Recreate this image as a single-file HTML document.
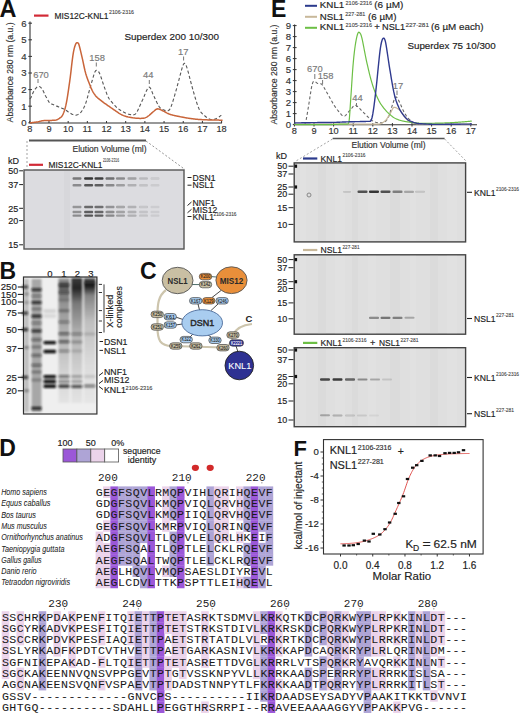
<!DOCTYPE html>
<html><head><meta charset="utf-8"><style>html,body{margin:0;padding:0;background:#fff;width:520px;height:714px;overflow:hidden}svg{display:block}</style></head>
<body><svg width="520" height="714" viewBox="0 0 520 714" font-family='"Liberation Sans", sans-serif'>
<defs>
<filter id="blur1" x="-20%" y="-50%" width="140%" height="200%"><feGaussianBlur stdDeviation="0.6"/></filter>
<filter id="blur2" x="-20%" y="-50%" width="140%" height="200%"><feGaussianBlur stdDeviation="1.0"/></filter>
<filter id="blur3" x="-20%" y="-20%" width="140%" height="140%"><feGaussianBlur stdDeviation="1.6"/></filter>
</defs>
<rect width="520" height="714" fill="#fff"/>
<text x="-0.60" y="17.40" font-size="23.5" fill="#111" text-anchor="start" font-weight="bold" >A</text>
<line x1="34.00" y1="15.60" x2="48.50" y2="15.60" stroke="#d22a36" stroke-width="2.2" />
<text x="54.50" y="18.60" font-size="8.4" fill="#222" text-anchor="start" stroke="#222" stroke-width="0.16" textLength="54" lengthAdjust="spacingAndGlyphs" >MIS12C-KNL1</text>
<text x="109.00" y="13.50" font-size="5" fill="#444" text-anchor="start" stroke="#444" stroke-width="0.1" textLength="25" lengthAdjust="spacingAndGlyphs" >2106-2316</text>
<line x1="30.00" y1="21.50" x2="30.00" y2="123.30" stroke="#333" stroke-width="1.1" />
<line x1="29.50" y1="123.00" x2="222.00" y2="123.00" stroke="#333" stroke-width="1.1" />
<line x1="28.30" y1="122.80" x2="32.00" y2="122.80" stroke="#333" stroke-width="1" />
<text x="26.60" y="126.20" font-size="9.6" fill="#333" text-anchor="end" stroke="#333" stroke-width="0.16" >0</text>
<line x1="28.30" y1="106.20" x2="32.00" y2="106.20" stroke="#333" stroke-width="1" />
<text x="26.60" y="109.60" font-size="9.6" fill="#333" text-anchor="end" stroke="#333" stroke-width="0.16" >1</text>
<line x1="28.30" y1="89.60" x2="32.00" y2="89.60" stroke="#333" stroke-width="1" />
<text x="26.60" y="93.00" font-size="9.6" fill="#333" text-anchor="end" stroke="#333" stroke-width="0.16" >2</text>
<line x1="28.30" y1="73.00" x2="32.00" y2="73.00" stroke="#333" stroke-width="1" />
<text x="26.60" y="76.40" font-size="9.6" fill="#333" text-anchor="end" stroke="#333" stroke-width="0.16" >3</text>
<line x1="28.30" y1="56.40" x2="32.00" y2="56.40" stroke="#333" stroke-width="1" />
<text x="26.60" y="59.80" font-size="9.6" fill="#333" text-anchor="end" stroke="#333" stroke-width="0.16" >4</text>
<line x1="28.30" y1="39.80" x2="32.00" y2="39.80" stroke="#333" stroke-width="1" />
<text x="26.60" y="43.20" font-size="9.6" fill="#333" text-anchor="end" stroke="#333" stroke-width="0.16" >5</text>
<line x1="28.30" y1="23.20" x2="32.00" y2="23.20" stroke="#333" stroke-width="1" />
<text x="26.60" y="26.60" font-size="9.6" fill="#333" text-anchor="end" stroke="#333" stroke-width="0.16" >6</text>
<line x1="29.80" y1="121.00" x2="29.80" y2="123.00" stroke="#333" stroke-width="1" />
<text x="29.80" y="132.30" font-size="9.2" fill="#333" text-anchor="middle" stroke="#333" stroke-width="0.16" >8</text>
<line x1="48.98" y1="121.00" x2="48.98" y2="123.00" stroke="#333" stroke-width="1" />
<text x="48.98" y="132.30" font-size="9.2" fill="#333" text-anchor="middle" stroke="#333" stroke-width="0.16" >9</text>
<line x1="68.16" y1="121.00" x2="68.16" y2="123.00" stroke="#333" stroke-width="1" />
<text x="68.16" y="132.30" font-size="9.2" fill="#333" text-anchor="middle" stroke="#333" stroke-width="0.16" >10</text>
<line x1="87.34" y1="121.00" x2="87.34" y2="123.00" stroke="#333" stroke-width="1" />
<text x="87.34" y="132.30" font-size="9.2" fill="#333" text-anchor="middle" stroke="#333" stroke-width="0.16" >11</text>
<line x1="106.52" y1="121.00" x2="106.52" y2="123.00" stroke="#333" stroke-width="1" />
<text x="106.52" y="132.30" font-size="9.2" fill="#333" text-anchor="middle" stroke="#333" stroke-width="0.16" >12</text>
<line x1="125.70" y1="121.00" x2="125.70" y2="123.00" stroke="#333" stroke-width="1" />
<text x="125.70" y="132.30" font-size="9.2" fill="#333" text-anchor="middle" stroke="#333" stroke-width="0.16" >13</text>
<line x1="144.88" y1="121.00" x2="144.88" y2="123.00" stroke="#333" stroke-width="1" />
<text x="144.88" y="132.30" font-size="9.2" fill="#333" text-anchor="middle" stroke="#333" stroke-width="0.16" >14</text>
<line x1="164.06" y1="121.00" x2="164.06" y2="123.00" stroke="#333" stroke-width="1" />
<text x="164.06" y="132.30" font-size="9.2" fill="#333" text-anchor="middle" stroke="#333" stroke-width="0.16" >15</text>
<line x1="183.24" y1="121.00" x2="183.24" y2="123.00" stroke="#333" stroke-width="1" />
<text x="183.24" y="132.30" font-size="9.2" fill="#333" text-anchor="middle" stroke="#333" stroke-width="0.16" >16</text>
<line x1="202.42" y1="121.00" x2="202.42" y2="123.00" stroke="#333" stroke-width="1" />
<text x="202.42" y="132.30" font-size="9.2" fill="#333" text-anchor="middle" stroke="#333" stroke-width="0.16" >17</text>
<line x1="221.60" y1="121.00" x2="221.60" y2="123.00" stroke="#333" stroke-width="1" />
<text x="221.60" y="132.30" font-size="9.2" fill="#333" text-anchor="middle" stroke="#333" stroke-width="0.16" >18</text>
<text x="9.60" y="72.40" font-size="8.7" fill="#333" text-anchor="middle" stroke="#333" stroke-width="0.16" textLength="100" lengthAdjust="spacingAndGlyphs" transform="rotate(-90 9.6 72.4)" dy="3">Absorbance 280 nm (a.u.)</text>
<text x="124.40" y="39.50" font-size="9.6" fill="#222" text-anchor="start" stroke="#222" stroke-width="0.16" textLength="94.5" lengthAdjust="spacingAndGlyphs" >Superdex 200 10/300</text>
<path d="M29.80,98.73 L30.44,98.21 L31.09,97.33 L31.73,96.03 L32.37,94.42 L33.01,92.83 L33.66,91.54 L34.30,90.43 L34.94,89.43 L35.58,88.54 L36.23,87.79 L36.87,87.19 L37.51,86.76 L38.15,86.50 L38.80,86.43 L39.44,86.56 L40.08,86.87 L40.72,87.36 L41.37,88.04 L42.01,88.90 L42.65,89.93 L43.29,91.13 L43.94,92.45 L44.58,93.82 L45.22,95.18 L45.86,96.45 L46.51,97.60 L47.15,98.77 L47.79,99.96 L48.43,101.09 L49.08,102.11 L49.72,102.94 L50.36,103.52 L51.00,103.83 L51.65,104.08 L52.29,104.34 L52.93,104.59 L53.57,104.85 L54.22,105.10 L54.86,105.36 L55.50,105.61 L56.14,105.87 L56.79,106.12 L57.43,106.38 L58.07,106.63 L58.71,106.89 L59.36,107.14 L60.00,107.40 L60.64,107.65 L61.28,107.90 L61.93,108.16 L62.57,108.42 L63.21,108.70 L63.85,108.98 L64.50,109.27 L65.14,109.64 L65.78,110.08 L66.42,110.56 L67.07,111.06 L67.71,111.54 L68.35,111.97 L68.99,112.38 L69.64,112.78 L70.28,113.17 L70.92,113.55 L71.56,113.92 L72.21,114.28 L72.85,114.58 L73.49,114.81 L74.13,114.97 L74.78,115.10 L75.42,115.18 L76.06,115.16 L76.70,115.03 L77.35,114.81 L77.99,114.53 L78.63,114.21 L79.27,113.82 L79.92,113.28 L80.56,112.63 L81.20,111.85 L81.84,110.99 L82.49,110.05 L83.13,109.02 L83.77,107.86 L84.42,106.54 L85.06,105.03 L85.70,103.31 L86.34,101.33 L86.99,99.12 L87.63,96.83 L88.27,94.51 L88.91,92.17 L89.56,89.84 L90.20,87.53 L90.84,85.25 L91.48,83.00 L92.13,80.76 L92.77,78.54 L93.41,76.34 L94.05,74.16 L94.70,72.34 L95.34,71.14 L95.98,70.49 L96.62,70.30 L97.27,70.47 L97.91,70.90 L98.55,71.61 L99.19,72.61 L99.84,73.93 L100.48,75.59 L101.12,77.46 L101.76,79.41 L102.41,81.39 L103.05,83.36 L103.69,85.28 L104.33,87.10 L104.98,88.89 L105.62,90.68 L106.26,92.43 L106.90,94.09 L107.55,95.63 L108.19,97.01 L108.83,98.20 L109.47,99.24 L110.12,100.14 L110.76,100.96 L111.40,101.71 L112.04,102.44 L112.69,103.17 L113.33,103.89 L113.97,104.60 L114.61,105.30 L115.26,105.97 L115.90,106.63 L116.54,107.25 L117.18,107.84 L117.83,108.39 L118.47,108.90 L119.11,109.37 L119.75,109.82 L120.40,110.24 L121.04,110.64 L121.68,111.02 L122.32,111.38 L122.97,111.73 L123.61,112.07 L124.25,112.40 L124.89,112.72 L125.54,113.04 L126.18,113.33 L126.82,113.58 L127.46,113.81 L128.11,114.02 L128.75,114.20 L129.39,114.37 L130.03,114.51 L130.68,114.64 L131.32,114.75 L131.96,114.85 L132.60,114.92 L133.25,114.92 L133.89,114.82 L134.53,114.59 L135.17,114.20 L135.82,113.61 L136.46,112.79 L137.10,111.72 L137.75,110.43 L138.39,109.09 L139.03,107.70 L139.67,106.28 L140.32,104.84 L140.96,103.39 L141.60,101.95 L142.24,100.53 L142.89,99.15 L143.53,97.70 L144.17,96.17 L144.81,94.61 L145.46,93.07 L146.10,91.60 L146.74,90.24 L147.38,89.04 L148.03,88.05 L148.67,87.32 L149.31,87.09 L149.95,87.56 L150.60,88.57 L151.24,89.95 L151.88,91.54 L152.52,93.17 L153.17,94.70 L153.81,95.99 L154.45,97.31 L155.09,98.69 L155.74,100.08 L156.38,101.47 L157.02,102.82 L157.66,104.09 L158.31,105.26 L158.95,106.30 L159.59,107.16 L160.23,107.86 L160.88,108.41 L161.52,108.86 L162.16,109.22 L162.80,109.53 L163.45,109.82 L164.09,110.11 L164.73,110.39 L165.37,110.61 L166.02,110.75 L166.66,110.83 L167.30,110.85 L167.94,110.77 L168.59,110.51 L169.23,110.00 L169.87,109.18 L170.51,107.97 L171.16,106.37 L171.80,104.60 L172.44,102.70 L173.08,100.69 L173.73,98.59 L174.37,96.41 L175.01,94.18 L175.65,91.90 L176.30,89.60 L176.94,87.27 L177.58,84.89 L178.22,82.47 L178.87,80.02 L179.51,77.58 L180.15,75.14 L180.79,72.74 L181.44,70.39 L182.08,68.14 L182.72,66.15 L183.36,64.56 L184.01,63.54 L184.65,63.28 L185.29,63.81 L185.93,64.98 L186.58,66.65 L187.22,68.66 L187.86,70.89 L188.50,73.21 L189.15,75.62 L189.79,78.08 L190.43,80.55 L191.08,83.02 L191.72,85.44 L192.36,87.79 L193.00,90.05 L193.65,92.31 L194.29,94.57 L194.93,96.80 L195.57,98.98 L196.22,101.08 L196.86,103.09 L197.50,104.98 L198.14,106.73 L198.79,108.30 L199.43,109.65 L200.07,110.81 L200.71,111.79 L201.36,112.63 L202.00,113.36 L202.64,114.01 L203.28,114.59 L203.93,115.14 L204.57,115.69 L205.21,116.23 L205.85,116.75 L206.50,117.26 L207.14,117.73 L207.78,118.16 L208.42,118.55 L209.07,118.88 L209.71,119.15 L210.35,119.35 L210.99,119.47 L211.64,119.53 L212.28,119.53 L212.92,119.49 L213.56,119.40 L214.21,119.27 L214.85,119.10 L215.49,118.88 L216.13,118.62 L216.78,118.32 L217.42,117.97 L218.06,117.59 L218.70,117.17 L219.35,116.71 L219.99,116.20 L220.63,115.65 L221.27,115.05 L221.92,114.39 L222.56,113.67" fill="none" stroke="#555" stroke-width="1.1" stroke-linejoin="round" stroke-dasharray="3.2,2.2"/>
<path d="M29.80,122.80 L30.44,122.75 L31.09,122.70 L31.73,122.64 L32.37,122.58 L33.01,122.51 L33.66,122.43 L34.30,122.35 L34.94,122.27 L35.58,122.18 L36.23,122.09 L36.87,122.00 L37.51,121.90 L38.15,121.77 L38.80,121.62 L39.44,121.46 L40.08,121.30 L40.72,121.13 L41.37,120.98 L42.01,120.84 L42.65,120.73 L43.29,120.65 L43.94,120.61 L44.58,120.57 L45.22,120.55 L45.86,120.54 L46.51,120.53 L47.15,120.52 L47.79,120.52 L48.43,120.51 L49.08,120.50 L49.72,120.48 L50.36,120.46 L51.00,120.43 L51.65,120.40 L52.29,120.36 L52.93,120.31 L53.57,120.27 L54.22,120.22 L54.86,120.18 L55.50,120.13 L56.14,120.00 L56.79,119.80 L57.43,119.52 L58.07,119.18 L58.71,118.79 L59.36,118.38 L60.00,117.93 L60.64,117.48 L61.28,116.97 L61.93,116.18 L62.57,115.11 L63.21,113.80 L63.85,112.26 L64.50,110.52 L65.14,108.35 L65.78,105.68 L66.42,102.57 L67.07,99.02 L67.71,95.11 L68.35,90.91 L68.99,86.48 L69.64,81.88 L70.28,77.11 L70.92,71.79 L71.56,66.14 L72.21,60.66 L72.85,55.80 L73.49,51.91 L74.13,48.88 L74.78,46.53 L75.42,44.69 L76.06,43.42 L76.70,42.82 L77.35,42.67 L77.99,42.85 L78.63,43.77 L79.27,45.79 L79.92,48.26 L80.56,50.86 L81.20,53.56 L81.84,56.34 L82.49,59.19 L83.13,62.20 L83.77,65.25 L84.42,68.23 L85.06,70.98 L85.70,73.42 L86.34,75.57 L86.99,77.50 L87.63,79.27 L88.27,80.94 L88.91,82.57 L89.56,84.21 L90.20,85.84 L90.84,87.42 L91.48,88.92 L92.13,90.30 L92.77,91.52 L93.41,92.60 L94.05,93.61 L94.70,94.54 L95.34,95.40 L95.98,96.18 L96.62,96.89 L97.27,97.53 L97.91,98.08 L98.55,98.60 L99.19,99.12 L99.84,99.64 L100.48,100.15 L101.12,100.66 L101.76,101.16 L102.41,101.66 L103.05,102.14 L103.69,102.62 L104.33,103.09 L104.98,103.54 L105.62,103.98 L106.26,104.43 L106.90,104.87 L107.55,105.32 L108.19,105.76 L108.83,106.21 L109.47,106.65 L110.12,107.10 L110.76,107.54 L111.40,107.99 L112.04,108.43 L112.69,108.88 L113.33,109.32 L113.97,109.77 L114.61,110.21 L115.26,110.66 L115.90,111.10 L116.54,111.55 L117.18,111.99 L117.83,112.43 L118.47,112.88 L119.11,113.31 L119.75,113.71 L120.40,114.08 L121.04,114.43 L121.68,114.75 L122.32,115.05 L122.97,115.33 L123.61,115.60 L124.25,115.85 L124.89,116.08 L125.54,116.30 L126.18,116.49 L126.82,116.67 L127.46,116.83 L128.11,116.98 L128.75,117.11 L129.39,117.24 L130.03,117.35 L130.68,117.46 L131.32,117.57 L131.96,117.67 L132.60,117.77 L133.25,117.87 L133.89,117.95 L134.53,118.03 L135.17,118.11 L135.82,118.17 L136.46,118.23 L137.10,118.28 L137.75,118.32 L138.39,118.35 L139.03,118.37 L139.67,118.38 L140.32,118.39 L140.96,118.38 L141.60,118.37 L142.24,118.35 L142.89,118.31 L143.53,118.23 L144.17,118.10 L144.81,117.92 L145.46,117.68 L146.10,117.40 L146.74,117.06 L147.38,116.68 L148.03,116.24 L148.67,115.76 L149.31,115.24 L149.95,114.68 L150.60,114.10 L151.24,113.51 L151.88,112.92 L152.52,112.35 L153.17,111.79 L153.81,111.27 L154.45,110.71 L155.09,110.14 L155.74,109.63 L156.38,109.21 L157.02,108.94 L157.66,108.86 L158.31,108.91 L158.95,109.06 L159.59,109.27 L160.23,109.53 L160.88,109.83 L161.52,110.15 L162.16,110.48 L162.80,110.80 L163.45,111.11 L164.09,111.44 L164.73,111.78 L165.37,112.13 L166.02,112.47 L166.66,112.82 L167.30,113.15 L167.94,113.46 L168.59,113.76 L169.23,114.02 L169.87,114.25 L170.51,114.47 L171.16,114.67 L171.80,114.86 L172.44,115.04 L173.08,115.21 L173.73,115.37 L174.37,115.52 L175.01,115.67 L175.65,115.81 L176.30,115.95 L176.94,116.08 L177.58,116.21 L178.22,116.34 L178.87,116.47 L179.51,116.60 L180.15,116.73 L180.79,116.86 L181.44,116.99 L182.08,117.11 L182.72,117.24 L183.36,117.36 L184.01,117.48 L184.65,117.59 L185.29,117.71 L185.93,117.82 L186.58,117.92 L187.22,118.03 L187.86,118.13 L188.50,118.22 L189.15,118.32 L189.79,118.41 L190.43,118.50 L191.08,118.59 L191.72,118.68 L192.36,118.76 L193.00,118.84 L193.65,118.92 L194.29,119.00 L194.93,119.07 L195.57,119.14 L196.22,119.21 L196.86,119.27 L197.50,119.33 L198.14,119.38 L198.79,119.43 L199.43,119.47 L200.07,119.51 L200.71,119.55 L201.36,119.59 L202.00,119.63 L202.64,119.66 L203.28,119.69 L203.93,119.73 L204.57,119.76 L205.21,119.78 L205.85,119.81 L206.50,119.84 L207.14,119.86 L207.78,119.88 L208.42,119.91 L209.07,119.93 L209.71,119.94 L210.35,119.96 L210.99,119.98 L211.64,119.99 L212.28,120.01 L212.92,120.02 L213.56,120.03 L214.21,120.05 L214.85,120.06 L215.49,120.07 L216.13,120.08 L216.78,120.09 L217.42,120.10 L218.06,120.11 L218.70,120.12 L219.35,120.13 L219.99,120.13 L220.63,120.14 L221.27,120.14 L221.92,120.14 L222.56,120.14" fill="none" stroke="#c9653a" stroke-width="1.5" stroke-linejoin="round" />
<text x="41.00" y="77.60" font-size="9.4" fill="#7a7a7a" text-anchor="middle" stroke="#7a7a7a" stroke-width="0.16" >670</text>
<line x1="38.00" y1="79.00" x2="38.00" y2="83.00" stroke="#777" stroke-width="1" />
<text x="97.20" y="60.80" font-size="9.4" fill="#7a7a7a" text-anchor="middle" stroke="#7a7a7a" stroke-width="0.16" >158</text>
<line x1="96.30" y1="62.50" x2="96.30" y2="66.50" stroke="#777" stroke-width="1" />
<text x="148.30" y="78.20" font-size="9.4" fill="#7a7a7a" text-anchor="middle" stroke="#7a7a7a" stroke-width="0.16" >44</text>
<line x1="149.30" y1="80.00" x2="149.30" y2="84.00" stroke="#777" stroke-width="1" />
<text x="183.20" y="54.60" font-size="9.4" fill="#7a7a7a" text-anchor="middle" stroke="#7a7a7a" stroke-width="0.16" >17</text>
<line x1="183.60" y1="56.50" x2="183.60" y2="60.50" stroke="#777" stroke-width="1" />
<line x1="29.00" y1="140.50" x2="146.00" y2="140.50" stroke="#555" stroke-width="1.8" />
<text x="109.50" y="152.40" font-size="8.6" fill="#333" text-anchor="middle" stroke="#333" stroke-width="0.16" textLength="74" lengthAdjust="spacingAndGlyphs" >Elution Volume (ml)</text>
<line x1="146.00" y1="141.00" x2="185.00" y2="169.50" stroke="#888" stroke-width="0.9" stroke-dasharray="2,2"/>
<line x1="27.00" y1="141.00" x2="27.00" y2="169.50" stroke="#999" stroke-width="0.9" stroke-dasharray="2,2"/>
<text x="8.00" y="163.80" font-size="9" fill="#222" text-anchor="start" stroke="#222" stroke-width="0.16" >kD</text>
<line x1="29.00" y1="164.80" x2="43.00" y2="164.80" stroke="#d22a36" stroke-width="2.2" />
<text x="48.50" y="167.50" font-size="8.4" fill="#222" text-anchor="start" stroke="#222" stroke-width="0.16" textLength="54" lengthAdjust="spacingAndGlyphs" >MIS12C-KNL1</text>
<text x="103.00" y="161.50" font-size="5.6" fill="#444" text-anchor="start" stroke="#444" stroke-width="0.1" textLength="16" lengthAdjust="spacingAndGlyphs" >2106-2316</text>
<rect x="24" y="170" width="160" height="79" fill="#dcdce0" stroke="#555" stroke-width="1.4"/>
<rect x="64" y="171" width="6" height="77" fill="#000" opacity="0.02"/>
<text x="18.30" y="174.00" font-size="9" fill="#222" text-anchor="end" stroke="#222" stroke-width="0.16" >50</text>
<line x1="19.20" y1="170.80" x2="23.00" y2="170.80" stroke="#222" stroke-width="1" />
<text x="18.30" y="187.80" font-size="9" fill="#222" text-anchor="end" stroke="#222" stroke-width="0.16" >37</text>
<line x1="19.20" y1="184.60" x2="23.00" y2="184.60" stroke="#222" stroke-width="1" />
<text x="18.30" y="211.50" font-size="9" fill="#222" text-anchor="end" stroke="#222" stroke-width="0.16" >25</text>
<line x1="19.20" y1="208.30" x2="23.00" y2="208.30" stroke="#222" stroke-width="1" />
<text x="18.30" y="223.80" font-size="9" fill="#222" text-anchor="end" stroke="#222" stroke-width="0.16" >20</text>
<line x1="19.20" y1="220.60" x2="23.00" y2="220.60" stroke="#222" stroke-width="1" />
<text x="18.30" y="248.00" font-size="9" fill="#222" text-anchor="end" stroke="#222" stroke-width="0.16" >15</text>
<line x1="19.20" y1="244.80" x2="23.00" y2="244.80" stroke="#222" stroke-width="1" />
<g filter="url(#blur1)">
<rect x="72.5" y="177.3" width="9" height="2.4" rx="1" fill="#2a2a2a" opacity="0.55"/>
<rect x="72.5" y="184.0" width="9" height="2.4" rx="1" fill="#2a2a2a" opacity="0.44"/>
<rect x="72.5" y="205.8" width="9" height="2.4" rx="1" fill="#2a2a2a" opacity="0.39"/>
<rect x="72.5" y="210.8" width="9" height="2.4" rx="1" fill="#2a2a2a" opacity="0.41"/>
<rect x="72.5" y="214.4" width="9" height="2.4" rx="1" fill="#2a2a2a" opacity="0.44"/>
<rect x="84.1" y="177.3" width="9" height="2.4" rx="1" fill="#2a2a2a" opacity="0.94"/>
<rect x="84.1" y="184.0" width="9" height="2.4" rx="1" fill="#2a2a2a" opacity="0.75"/>
<rect x="84.1" y="205.8" width="9" height="2.4" rx="1" fill="#2a2a2a" opacity="0.65"/>
<rect x="84.1" y="210.8" width="9" height="2.4" rx="1" fill="#2a2a2a" opacity="0.70"/>
<rect x="84.1" y="214.4" width="9" height="2.4" rx="1" fill="#2a2a2a" opacity="0.75"/>
<rect x="94.5" y="177.3" width="9" height="2.4" rx="1" fill="#2a2a2a" opacity="0.88"/>
<rect x="94.5" y="184.0" width="9" height="2.4" rx="1" fill="#2a2a2a" opacity="0.70"/>
<rect x="94.5" y="205.8" width="9" height="2.4" rx="1" fill="#2a2a2a" opacity="0.62"/>
<rect x="94.5" y="210.8" width="9" height="2.4" rx="1" fill="#2a2a2a" opacity="0.66"/>
<rect x="94.5" y="214.4" width="9" height="2.4" rx="1" fill="#2a2a2a" opacity="0.70"/>
<rect x="105.5" y="177.3" width="9" height="2.4" rx="1" fill="#2a2a2a" opacity="0.61"/>
<rect x="105.5" y="184.0" width="9" height="2.4" rx="1" fill="#2a2a2a" opacity="0.48"/>
<rect x="105.5" y="205.8" width="9" height="2.4" rx="1" fill="#2a2a2a" opacity="0.42"/>
<rect x="105.5" y="210.8" width="9" height="2.4" rx="1" fill="#2a2a2a" opacity="0.45"/>
<rect x="105.5" y="214.4" width="9" height="2.4" rx="1" fill="#2a2a2a" opacity="0.48"/>
<rect x="116.0" y="177.3" width="9" height="2.4" rx="1" fill="#2a2a2a" opacity="0.44"/>
<rect x="116.0" y="184.0" width="9" height="2.4" rx="1" fill="#2a2a2a" opacity="0.35"/>
<rect x="116.0" y="205.8" width="9" height="2.4" rx="1" fill="#2a2a2a" opacity="0.31"/>
<rect x="116.0" y="210.8" width="9" height="2.4" rx="1" fill="#2a2a2a" opacity="0.33"/>
<rect x="116.0" y="214.4" width="9" height="2.4" rx="1" fill="#2a2a2a" opacity="0.35"/>
<rect x="127.5" y="177.3" width="9" height="2.4" rx="1" fill="#2a2a2a" opacity="0.33"/>
<rect x="127.5" y="184.0" width="9" height="2.4" rx="1" fill="#2a2a2a" opacity="0.26"/>
<rect x="127.5" y="205.8" width="9" height="2.4" rx="1" fill="#2a2a2a" opacity="0.23"/>
<rect x="127.5" y="210.8" width="9" height="2.4" rx="1" fill="#2a2a2a" opacity="0.25"/>
<rect x="127.5" y="214.4" width="9" height="2.4" rx="1" fill="#2a2a2a" opacity="0.26"/>
<rect x="139.0" y="177.3" width="9" height="2.4" rx="1" fill="#2a2a2a" opacity="0.19"/>
<rect x="139.0" y="184.0" width="9" height="2.4" rx="1" fill="#2a2a2a" opacity="0.15"/>
<rect x="139.0" y="205.8" width="9" height="2.4" rx="1" fill="#2a2a2a" opacity="0.13"/>
<rect x="139.0" y="210.8" width="9" height="2.4" rx="1" fill="#2a2a2a" opacity="0.14"/>
<rect x="139.0" y="214.4" width="9" height="2.4" rx="1" fill="#2a2a2a" opacity="0.15"/>
<rect x="150.5" y="177.3" width="9" height="2.4" rx="1" fill="#2a2a2a" opacity="0.10"/>
<rect x="150.5" y="184.0" width="9" height="2.4" rx="1" fill="#2a2a2a" opacity="0.08"/>
<rect x="150.5" y="205.8" width="9" height="2.4" rx="1" fill="#2a2a2a" opacity="0.07"/>
<rect x="150.5" y="210.8" width="9" height="2.4" rx="1" fill="#2a2a2a" opacity="0.07"/>
<rect x="150.5" y="214.4" width="9" height="2.4" rx="1" fill="#2a2a2a" opacity="0.08"/>
</g>
<line x1="187.50" y1="177.50" x2="191.50" y2="177.50" stroke="#222" stroke-width="1" />
<text x="192.50" y="180.60" font-size="8.6" fill="#222" text-anchor="start" stroke="#222" stroke-width="0.16" >DSN1</text>
<line x1="187.50" y1="185.20" x2="191.50" y2="185.20" stroke="#222" stroke-width="1" />
<text x="192.50" y="188.30" font-size="8.6" fill="#222" text-anchor="start" stroke="#222" stroke-width="0.16" >NSL1</text>
<line x1="187.50" y1="205.50" x2="191.50" y2="202.00" stroke="#222" stroke-width="1" />
<text x="192.50" y="205.60" font-size="8.6" fill="#222" text-anchor="start" stroke="#222" stroke-width="0.16" >NNF1</text>
<line x1="187.50" y1="212.80" x2="191.50" y2="209.30" stroke="#222" stroke-width="1" />
<text x="192.50" y="212.90" font-size="8.6" fill="#222" text-anchor="start" stroke="#222" stroke-width="0.16" >MIS12</text>
<line x1="187.50" y1="216.50" x2="191.50" y2="216.50" stroke="#222" stroke-width="1" />
<text x="192.50" y="219.60" font-size="8.6" fill="#222" text-anchor="start" stroke="#222" stroke-width="0.16" >KNL1</text>
<text x="213.50" y="215.50" font-size="5" fill="#444" text-anchor="start" stroke="#444" stroke-width="0.1" textLength="23" lengthAdjust="spacingAndGlyphs" >2106-2316</text>
<text x="-0.50" y="278.60" font-size="23" fill="#111" text-anchor="start" font-weight="bold" >B</text>
<text x="50.00" y="276.60" font-size="9.5" fill="#222" text-anchor="middle" stroke="#222" stroke-width="0.16" >0</text>
<text x="64.00" y="276.60" font-size="9.5" fill="#222" text-anchor="middle" stroke="#222" stroke-width="0.16" >1</text>
<text x="77.50" y="276.60" font-size="9.5" fill="#222" text-anchor="middle" stroke="#222" stroke-width="0.16" >2</text>
<text x="91.00" y="276.60" font-size="9.5" fill="#222" text-anchor="middle" stroke="#222" stroke-width="0.16" >3</text>
<rect x="23.5" y="277" width="73.4" height="137" fill="#efefef" stroke="#333" stroke-width="1.2"/>
<defs>
<linearGradient id="smear1" x1="0" y1="0" x2="0" y2="1"><stop offset="0" stop-color="#000" stop-opacity="0.3"/><stop offset="0.06" stop-color="#000" stop-opacity="0.65"/><stop offset="0.18" stop-color="#000" stop-opacity="0.4"/><stop offset="0.45" stop-color="#000" stop-opacity="0.25"/><stop offset="0.8" stop-color="#000" stop-opacity="0.1"/><stop offset="1" stop-color="#000" stop-opacity="0.05"/></linearGradient>
<linearGradient id="smear2" x1="0" y1="0" x2="0" y2="1"><stop offset="0" stop-color="#000" stop-opacity="0.75"/><stop offset="0.08" stop-color="#000" stop-opacity="0.85"/><stop offset="0.2" stop-color="#000" stop-opacity="0.5"/><stop offset="0.45" stop-color="#000" stop-opacity="0.25"/><stop offset="0.8" stop-color="#000" stop-opacity="0.1"/><stop offset="1" stop-color="#000" stop-opacity="0.05"/></linearGradient>
<linearGradient id="smear3" x1="0" y1="0" x2="0" y2="1"><stop offset="0" stop-color="#000" stop-opacity="0.6"/><stop offset="0.06" stop-color="#000" stop-opacity="0.9"/><stop offset="0.14" stop-color="#000" stop-opacity="0.45"/><stop offset="0.35" stop-color="#000" stop-opacity="0.2"/><stop offset="0.7" stop-color="#000" stop-opacity="0.08"/><stop offset="1" stop-color="#000" stop-opacity="0.04"/></linearGradient>
</defs>
<g filter="url(#blur2)">
<rect x="24" y="279" width="5" height="133" fill="#000" opacity="0.2"/>
<rect x="31.5" y="279" width="10" height="133" fill="#000" opacity="0.3"/>
<rect x="58.5" y="278" width="11" height="125" fill="url(#smear1)"/>
<rect x="71.3" y="278" width="11" height="125" fill="url(#smear2)"/>
<rect x="84" y="278" width="11.5" height="125" fill="url(#smear3)"/>
</g>
<filter id="blurB" x="-30%" y="-100%" width="160%" height="300%"><feGaussianBlur stdDeviation="0.85"/></filter>
<g filter="url(#blurB)">
<rect x="31.5" y="288.2" width="10" height="3" fill="#111" opacity="0.8"/>
<rect x="31.5" y="294.5" width="10" height="3" fill="#111" opacity="0.35"/>
<rect x="31.5" y="301.0" width="10" height="3" fill="#111" opacity="0.8"/>
<rect x="31.5" y="307.5" width="10" height="3" fill="#111" opacity="0.3"/>
<rect x="31.5" y="314.7" width="10" height="3" fill="#111" opacity="0.85"/>
<rect x="31.5" y="321.5" width="10" height="3" fill="#111" opacity="0.35"/>
<rect x="31.5" y="329.4" width="10" height="3" fill="#111" opacity="0.8"/>
<rect x="31.5" y="338.2" width="10" height="3" fill="#111" opacity="0.45"/>
<rect x="31.5" y="345.5" width="10" height="3" fill="#111" opacity="0.3"/>
<rect x="31.5" y="353.9" width="10" height="3" fill="#111" opacity="0.45"/>
<rect x="31.5" y="363.7" width="10" height="3" fill="#111" opacity="0.45"/>
<rect x="31.5" y="370.5" width="10" height="3" fill="#111" opacity="0.3"/>
<rect x="31.5" y="378.5" width="10" height="3" fill="#111" opacity="0.25"/>
<rect x="31.5" y="406.8" width="10" height="3" fill="#111" opacity="0.85"/>
<rect x="22" y="285.4" width="6" height="3.2" fill="#111" opacity="0.7"/>
<rect x="22" y="311.59999999999997" width="6" height="3.2" fill="#111" opacity="0.75"/>
<rect x="22" y="328.0" width="6" height="3.2" fill="#111" opacity="0.8"/>
<rect x="22" y="375.7" width="6" height="3.2" fill="#111" opacity="0.75"/>
<rect x="24" y="292.5" width="5" height="3" fill="#111" opacity="0.25"/>
<rect x="24" y="301.0" width="5" height="3" fill="#111" opacity="0.2"/>
<rect x="24" y="346.0" width="5" height="3" fill="#111" opacity="0.3"/>
<rect x="24" y="389.2" width="5" height="3" fill="#111" opacity="0.3"/>
<rect x="43.5" y="309.3" width="12.5" height="3.4" rx="1" fill="#111" opacity="0.12"/>
<rect x="43.5" y="314.3" width="12.5" height="3.4" rx="1" fill="#111" opacity="0.1"/>
<rect x="43.5" y="340.90000000000003" width="12.5" height="3.4" rx="1" fill="#111" opacity="1"/>
<rect x="43.5" y="349.8" width="12.5" height="3.4" rx="1" fill="#111" opacity="1"/>
<rect x="43.5" y="374.90000000000003" width="12.5" height="3.4" rx="1" fill="#111" opacity="1"/>
<rect x="43.5" y="379.8" width="12.5" height="3.4" rx="1" fill="#111" opacity="1"/>
<rect x="43.5" y="384.5" width="12.5" height="3.4" rx="1" fill="#111" opacity="1"/>
<rect x="58.5" y="283.5" width="11" height="3" rx="1" fill="#111" opacity="0.5"/>
<rect x="58.5" y="291.1" width="11" height="3" rx="1" fill="#111" opacity="0.35"/>
<rect x="58.5" y="298.5" width="11" height="3" rx="1" fill="#111" opacity="0.2"/>
<rect x="58.5" y="309.2" width="11" height="3" rx="1" fill="#111" opacity="0.3"/>
<rect x="58.5" y="320.5" width="11" height="3" rx="1" fill="#111" opacity="0.35"/>
<rect x="58.5" y="332.3" width="11" height="3" rx="1" fill="#111" opacity="0.5"/>
<rect x="58.5" y="340.2" width="11" height="3" rx="1" fill="#111" opacity="0.55"/>
<rect x="58.5" y="349.5" width="11" height="3" rx="1" fill="#111" opacity="0.35"/>
<rect x="58.5" y="375.1" width="11" height="3" rx="1" fill="#111" opacity="0.5"/>
<rect x="58.5" y="380.0" width="11" height="3" rx="1" fill="#111" opacity="0.4"/>
<rect x="58.5" y="384.7" width="11" height="3" rx="1" fill="#111" opacity="0.85"/>
<rect x="71.3" y="332.5" width="11" height="3" rx="1" fill="#111" opacity="0.35"/>
<rect x="71.3" y="340.5" width="11" height="3" rx="1" fill="#111" opacity="0.25"/>
<rect x="71.3" y="349.5" width="11" height="3" rx="1" fill="#111" opacity="0.15"/>
<rect x="71.3" y="375.1" width="11" height="3" rx="1" fill="#111" opacity="0.25"/>
<rect x="71.3" y="380.0" width="11" height="3" rx="1" fill="#111" opacity="0.25"/>
<rect x="71.3" y="385.0" width="11" height="3" rx="1" fill="#111" opacity="0.7"/>
<rect x="84" y="281.5" width="11.5" height="3" rx="1" fill="#111" opacity="0.4"/>
<rect x="84" y="332.5" width="11.5" height="3" rx="1" fill="#111" opacity="0.15"/>
<rect x="84" y="375.1" width="11.5" height="3" rx="1" fill="#111" opacity="0.12"/>
<rect x="84" y="384.5" width="11.5" height="3" rx="1" fill="#111" opacity="0.5"/>
</g>
<text x="16.80" y="290.40" font-size="9.6" fill="#222" text-anchor="end" stroke="#222" stroke-width="0.16" >250</text>
<line x1="17.80" y1="287.00" x2="23.00" y2="287.00" stroke="#222" stroke-width="1.1" />
<text x="16.80" y="297.80" font-size="9.6" fill="#222" text-anchor="end" stroke="#222" stroke-width="0.16" >150</text>
<line x1="17.80" y1="294.40" x2="23.00" y2="294.40" stroke="#222" stroke-width="1.1" />
<text x="16.80" y="305.40" font-size="9.6" fill="#222" text-anchor="end" stroke="#222" stroke-width="0.16" >100</text>
<line x1="17.80" y1="302.00" x2="23.00" y2="302.00" stroke="#222" stroke-width="1.1" />
<text x="16.80" y="316.40" font-size="9.6" fill="#222" text-anchor="end" stroke="#222" stroke-width="0.16" >75</text>
<line x1="17.80" y1="313.00" x2="23.00" y2="313.00" stroke="#222" stroke-width="1.1" />
<text x="16.80" y="333.00" font-size="9.6" fill="#222" text-anchor="end" stroke="#222" stroke-width="0.16" >50</text>
<line x1="17.80" y1="329.60" x2="23.00" y2="329.60" stroke="#222" stroke-width="1.1" />
<text x="16.80" y="351.90" font-size="9.6" fill="#222" text-anchor="end" stroke="#222" stroke-width="0.16" >37</text>
<line x1="17.80" y1="348.50" x2="23.00" y2="348.50" stroke="#222" stroke-width="1.1" />
<text x="16.80" y="380.70" font-size="9.6" fill="#222" text-anchor="end" stroke="#222" stroke-width="0.16" >25</text>
<line x1="17.80" y1="377.30" x2="23.00" y2="377.30" stroke="#222" stroke-width="1.1" />
<text x="16.80" y="394.20" font-size="9.6" fill="#222" text-anchor="end" stroke="#222" stroke-width="0.16" >20</text>
<line x1="17.80" y1="390.80" x2="23.00" y2="390.80" stroke="#222" stroke-width="1.1" />
<line x1="98.80" y1="284.40" x2="102.00" y2="284.40" stroke="#222" stroke-width="0.9" />
<line x1="98.80" y1="292.50" x2="102.00" y2="292.50" stroke="#222" stroke-width="0.9" />
<line x1="98.80" y1="310.60" x2="102.00" y2="310.60" stroke="#222" stroke-width="0.9" />
<line x1="98.80" y1="321.00" x2="102.00" y2="321.00" stroke="#222" stroke-width="0.9" />
<line x1="98.80" y1="332.50" x2="102.00" y2="332.50" stroke="#222" stroke-width="0.9" />
<line x1="104.00" y1="284.40" x2="104.00" y2="332.50" stroke="#222" stroke-width="0.9" />
<text x="113.50" y="327.70" font-size="8.8" fill="#222" text-anchor="start" stroke="#222" stroke-width="0.16" textLength="33" lengthAdjust="spacingAndGlyphs" transform="rotate(-90 113.5 327.7)">X-linked</text>
<text x="121.80" y="327.70" font-size="8.8" fill="#222" text-anchor="start" stroke="#222" stroke-width="0.16" textLength="41.5" lengthAdjust="spacingAndGlyphs" transform="rotate(-90 121.8 327.7)">complexes</text>
<line x1="99.50" y1="341.50" x2="103.00" y2="341.50" stroke="#222" stroke-width="1" />
<text x="104.00" y="344.70" font-size="8.8" fill="#222" text-anchor="start" stroke="#222" stroke-width="0.16" >DSN1</text>
<line x1="99.50" y1="350.40" x2="103.00" y2="350.40" stroke="#222" stroke-width="1" />
<text x="104.00" y="353.60" font-size="8.8" fill="#222" text-anchor="start" stroke="#222" stroke-width="0.16" >NSL1</text>
<line x1="99.00" y1="375.50" x2="103.00" y2="372.50" stroke="#222" stroke-width="1" />
<text x="104.00" y="375.20" font-size="8.8" fill="#222" text-anchor="start" stroke="#222" stroke-width="0.16" >NNF1</text>
<line x1="99.00" y1="383.50" x2="103.00" y2="380.50" stroke="#222" stroke-width="1" />
<text x="104.00" y="383.20" font-size="8.8" fill="#222" text-anchor="start" stroke="#222" stroke-width="0.16" >MIS12</text>
<line x1="99.00" y1="386.50" x2="103.00" y2="389.50" stroke="#222" stroke-width="1" />
<text x="104.00" y="392.70" font-size="8.8" fill="#222" text-anchor="start" stroke="#222" stroke-width="0.16" >KNL1</text>
<text x="125.50" y="389.60" font-size="5.2" fill="#444" text-anchor="start" stroke="#444" stroke-width="0.1" textLength="27" lengthAdjust="spacingAndGlyphs" >2106-2316</text>
<text x="140.00" y="278.80" font-size="23" fill="#111" text-anchor="start" font-weight="bold" >C</text>
<path d="M166,290 C158,296 157.5,305 157.5,315 L157.5,327 C157.5,340 160,346 172,346 L224,347.5 C230,347 232,342 233,335 C236,328 242,325 252,324" fill="none" stroke="#cdc5ad" stroke-width="2.2"/>
<line x1="192.00" y1="284.50" x2="200.00" y2="284.60" stroke="#3b5f5a" stroke-width="0.9" />
<line x1="211.00" y1="276.60" x2="216.50" y2="277.00" stroke="#3b5f5a" stroke-width="0.9" />
<line x1="212.00" y1="297.50" x2="221.00" y2="290.50" stroke="#333" stroke-width="0.9" />
<line x1="198.00" y1="304.00" x2="199.50" y2="310.00" stroke="#333" stroke-width="0.9" />
<line x1="218.00" y1="304.00" x2="211.00" y2="310.50" stroke="#333" stroke-width="0.9" />
<line x1="175.50" y1="317.00" x2="183.00" y2="319.50" stroke="#333" stroke-width="0.9" />
<line x1="175.50" y1="325.00" x2="182.50" y2="324.00" stroke="#333" stroke-width="0.9" />
<line x1="190.00" y1="337.00" x2="193.00" y2="334.00" stroke="#333" stroke-width="0.9" />
<line x1="211.00" y1="337.00" x2="208.00" y2="335.00" stroke="#333" stroke-width="0.9" />
<line x1="236.00" y1="346.00" x2="238.00" y2="352.00" stroke="#333" stroke-width="0.9" />
<ellipse cx="177.6" cy="280.5" rx="15.4" ry="13.2" fill="#c9bfa3" stroke="#555" stroke-width="0.9"/>
<ellipse cx="231.5" cy="280.2" rx="15.6" ry="13.4" fill="#e98f3a" stroke="#555" stroke-width="0.9"/>
<ellipse cx="202.2" cy="322.8" rx="20.3" ry="13.1" fill="#a9cdf0" stroke="#4a6a9a" stroke-width="0.9"/>
<circle cx="239.3" cy="365.5" r="14.3" fill="#2e3192" stroke="#222" stroke-width="0.9"/>
<text x="177.60" y="283.80" font-size="9" fill="#2a2a2a" text-anchor="middle" font-weight="bold" textLength="20" lengthAdjust="spacingAndGlyphs" >NSL1</text>
<text x="231.50" y="283.60" font-size="9" fill="#2a2a2a" text-anchor="middle" font-weight="bold" textLength="23.5" lengthAdjust="spacingAndGlyphs" >MIS12</text>
<text x="202.20" y="326.40" font-size="9.8" fill="#2a2a2a" text-anchor="middle" stroke="#2a2a2a" stroke-width="0.45" textLength="24" lengthAdjust="spacingAndGlyphs" >DSN1</text>
<text x="239.80" y="368.80" font-size="9.5" fill="#fff" text-anchor="middle" stroke="#fff" stroke-width="0.1" textLength="23" lengthAdjust="spacingAndGlyphs" >KNL1</text>
<rect x="199.30" y="273.40" width="12.4" height="6.4" rx="3.2" fill="#e98f3a" stroke="#444" stroke-width="0.7"/>
<text x="205.50" y="278.40" font-size="5" fill="#222" stroke="#222" stroke-width="0.1" text-anchor="middle" textLength="9.4" lengthAdjust="spacingAndGlyphs">K200</text>
<rect x="199.30" y="281.40" width="12.4" height="6.4" rx="3.2" fill="#c9bfa3" stroke="#444" stroke-width="0.7"/>
<text x="205.50" y="286.40" font-size="5" fill="#222" stroke="#222" stroke-width="0.1" text-anchor="middle" textLength="9.4" lengthAdjust="spacingAndGlyphs">K142</text>
<rect x="189.50" y="297.60" width="12.4" height="6.4" rx="3.2" fill="#a9cdf0" stroke="#444" stroke-width="0.7"/>
<text x="195.70" y="302.60" font-size="5" fill="#222" stroke="#222" stroke-width="0.1" text-anchor="middle" textLength="9.4" lengthAdjust="spacingAndGlyphs">K167</text>
<rect x="202.50" y="297.60" width="12.4" height="6.4" rx="3.2" fill="#e98f3a" stroke="#444" stroke-width="0.7"/>
<text x="208.70" y="302.60" font-size="5" fill="#222" stroke="#222" stroke-width="0.1" text-anchor="middle" textLength="9.4" lengthAdjust="spacingAndGlyphs">K129</text>
<rect x="215.90" y="297.60" width="12.4" height="6.4" rx="3.2" fill="#a9cdf0" stroke="#444" stroke-width="0.7"/>
<text x="222.10" y="302.60" font-size="5" fill="#222" stroke="#222" stroke-width="0.1" text-anchor="middle" textLength="9.4" lengthAdjust="spacingAndGlyphs">K246</text>
<rect x="151.00" y="311.20" width="12.4" height="6.4" rx="3.2" fill="#c9bfa3" stroke="#444" stroke-width="0.7"/>
<text x="157.20" y="316.20" font-size="5" fill="#222" stroke="#222" stroke-width="0.1" text-anchor="middle" textLength="9.4" lengthAdjust="spacingAndGlyphs">K250</text>
<rect x="164.00" y="313.50" width="12.4" height="6.4" rx="3.2" fill="#a9cdf0" stroke="#444" stroke-width="0.7"/>
<text x="170.20" y="318.50" font-size="5" fill="#222" stroke="#222" stroke-width="0.1" text-anchor="middle" textLength="9.4" lengthAdjust="spacingAndGlyphs">K61</text>
<rect x="164.00" y="321.80" width="12.4" height="6.4" rx="3.2" fill="#a9cdf0" stroke="#444" stroke-width="0.7"/>
<text x="170.20" y="326.80" font-size="5" fill="#222" stroke="#222" stroke-width="0.1" text-anchor="middle" textLength="9.4" lengthAdjust="spacingAndGlyphs">K157</text>
<rect x="151.00" y="323.80" width="12.4" height="6.4" rx="3.2" fill="#c9bfa3" stroke="#444" stroke-width="0.7"/>
<text x="157.20" y="328.80" font-size="5" fill="#222" stroke="#222" stroke-width="0.1" text-anchor="middle" textLength="9.4" lengthAdjust="spacingAndGlyphs">K251</text>
<rect x="180.00" y="336.40" width="12.4" height="6.4" rx="3.2" fill="#a9cdf0" stroke="#444" stroke-width="0.7"/>
<text x="186.20" y="341.40" font-size="5" fill="#222" stroke="#222" stroke-width="0.1" text-anchor="middle" textLength="9.4" lengthAdjust="spacingAndGlyphs">K322</text>
<rect x="169.60" y="342.80" width="12.4" height="6.4" rx="3.2" fill="#c9bfa3" stroke="#444" stroke-width="0.7"/>
<text x="175.80" y="347.80" font-size="5" fill="#222" stroke="#222" stroke-width="0.1" text-anchor="middle" textLength="9.4" lengthAdjust="spacingAndGlyphs">K259</text>
<rect x="189.70" y="342.80" width="12.4" height="6.4" rx="3.2" fill="#c9bfa3" stroke="#444" stroke-width="0.7"/>
<text x="195.90" y="347.80" font-size="5" fill="#222" stroke="#222" stroke-width="0.1" text-anchor="middle" textLength="9.4" lengthAdjust="spacingAndGlyphs">K262</text>
<rect x="208.80" y="337.10" width="12.4" height="6.4" rx="3.2" fill="#a9cdf0" stroke="#444" stroke-width="0.7"/>
<text x="215.00" y="342.10" font-size="5" fill="#222" stroke="#222" stroke-width="0.1" text-anchor="middle" textLength="9.4" lengthAdjust="spacingAndGlyphs">K330</text>
<rect x="216.80" y="344.50" width="12.4" height="6.4" rx="3.2" fill="#c9bfa3" stroke="#444" stroke-width="0.7"/>
<text x="223.00" y="349.50" font-size="5" fill="#222" stroke="#222" stroke-width="0.1" text-anchor="middle" textLength="9.4" lengthAdjust="spacingAndGlyphs">K260</text>
<rect x="226.80" y="331.80" width="12.4" height="6.4" rx="3.2" fill="#c9bfa3" stroke="#444" stroke-width="0.7"/>
<text x="233.00" y="336.80" font-size="5" fill="#222" stroke="#222" stroke-width="0.1" text-anchor="middle" textLength="9.4" lengthAdjust="spacingAndGlyphs">K270</text>
<rect x="229.50" y="339.80" width="14" height="6.4" rx="3.2" fill="#2e3192" stroke="#444" stroke-width="0.7"/>
<text x="236.50" y="344.80" font-size="5" fill="#fff" stroke="#fff" stroke-width="0.1" text-anchor="middle" textLength="11.0" lengthAdjust="spacingAndGlyphs">K2221</text>
<text x="249.00" y="322.30" font-size="9.5" fill="#222" text-anchor="middle" font-weight="bold" >C</text>
<text x="271.00" y="17.40" font-size="23" fill="#111" text-anchor="start" font-weight="bold" >E</text>
<line x1="305.00" y1="5.80" x2="317.00" y2="5.80" stroke="#2b3a8c" stroke-width="2" />
<line x1="305.00" y1="16.80" x2="317.00" y2="16.80" stroke="#c8b89a" stroke-width="2" />
<line x1="305.00" y1="27.80" x2="317.00" y2="27.80" stroke="#6cbf45" stroke-width="2" />
<text x="319.80" y="8.40" font-size="9.7" fill="#222" text-anchor="start" stroke="#222" stroke-width="0.16" textLength="24.5" lengthAdjust="spacingAndGlyphs" >KNL1</text>
<text x="345.50" y="4.80" font-size="5.2" fill="#444" text-anchor="start" stroke="#444" stroke-width="0.1" textLength="26.5" lengthAdjust="spacingAndGlyphs" >2106-2316</text>
<text x="374.30" y="8.40" font-size="9.7" fill="#222" text-anchor="start" stroke="#222" stroke-width="0.16" textLength="29" lengthAdjust="spacingAndGlyphs" >(6 µM)</text>
<text x="319.80" y="19.60" font-size="9.7" fill="#222" text-anchor="start" stroke="#222" stroke-width="0.16" textLength="24.2" lengthAdjust="spacingAndGlyphs" >NSL1</text>
<text x="345.30" y="16.00" font-size="5.2" fill="#444" text-anchor="start" stroke="#444" stroke-width="0.1" textLength="20" lengthAdjust="spacingAndGlyphs" >227-281</text>
<text x="368.00" y="19.60" font-size="9.7" fill="#222" text-anchor="start" stroke="#222" stroke-width="0.16" textLength="28.5" lengthAdjust="spacingAndGlyphs" >(6 µM)</text>
<text x="319.80" y="30.40" font-size="9.7" fill="#222" text-anchor="start" stroke="#222" stroke-width="0.16" textLength="24.5" lengthAdjust="spacingAndGlyphs" >KNL1</text>
<text x="345.50" y="26.80" font-size="5.2" fill="#444" text-anchor="start" stroke="#444" stroke-width="0.1" textLength="26.5" lengthAdjust="spacingAndGlyphs" >2105-2316</text>
<text x="374.30" y="30.40" font-size="9.7" fill="#222" text-anchor="start" stroke="#222" stroke-width="0.16" >+</text>
<text x="382.00" y="30.40" font-size="9.7" fill="#222" text-anchor="start" stroke="#222" stroke-width="0.16" textLength="23" lengthAdjust="spacingAndGlyphs" >NSL1</text>
<text x="405.50" y="26.80" font-size="5.2" fill="#444" text-anchor="start" stroke="#444" stroke-width="0.1" textLength="23.5" lengthAdjust="spacingAndGlyphs" >227-281</text>
<text x="431.00" y="30.40" font-size="9.7" fill="#222" text-anchor="start" stroke="#222" stroke-width="0.16" textLength="52.6" lengthAdjust="spacingAndGlyphs" >(6 µM each)</text>
<line x1="294.60" y1="24.50" x2="294.60" y2="125.00" stroke="#333" stroke-width="1.1" />
<line x1="294.00" y1="124.80" x2="477.00" y2="124.80" stroke="#333" stroke-width="1.1" />
<line x1="292.80" y1="124.60" x2="296.60" y2="124.60" stroke="#333" stroke-width="1" />
<text x="291.00" y="128.00" font-size="9.6" fill="#333" text-anchor="end" stroke="#333" stroke-width="0.16" >0</text>
<line x1="292.80" y1="113.60" x2="296.60" y2="113.60" stroke="#333" stroke-width="1" />
<text x="291.00" y="117.00" font-size="9.6" fill="#333" text-anchor="end" stroke="#333" stroke-width="0.16" >1</text>
<line x1="292.80" y1="102.60" x2="296.60" y2="102.60" stroke="#333" stroke-width="1" />
<text x="291.00" y="106.00" font-size="9.6" fill="#333" text-anchor="end" stroke="#333" stroke-width="0.16" >2</text>
<line x1="292.80" y1="91.60" x2="296.60" y2="91.60" stroke="#333" stroke-width="1" />
<text x="291.00" y="95.00" font-size="9.6" fill="#333" text-anchor="end" stroke="#333" stroke-width="0.16" >3</text>
<line x1="292.80" y1="80.60" x2="296.60" y2="80.60" stroke="#333" stroke-width="1" />
<text x="291.00" y="84.00" font-size="9.6" fill="#333" text-anchor="end" stroke="#333" stroke-width="0.16" >4</text>
<line x1="292.80" y1="69.60" x2="296.60" y2="69.60" stroke="#333" stroke-width="1" />
<text x="291.00" y="73.00" font-size="9.6" fill="#333" text-anchor="end" stroke="#333" stroke-width="0.16" >5</text>
<line x1="292.80" y1="58.60" x2="296.60" y2="58.60" stroke="#333" stroke-width="1" />
<text x="291.00" y="62.00" font-size="9.6" fill="#333" text-anchor="end" stroke="#333" stroke-width="0.16" >6</text>
<line x1="292.80" y1="47.60" x2="296.60" y2="47.60" stroke="#333" stroke-width="1" />
<text x="291.00" y="51.00" font-size="9.6" fill="#333" text-anchor="end" stroke="#333" stroke-width="0.16" >7</text>
<line x1="292.80" y1="36.60" x2="296.60" y2="36.60" stroke="#333" stroke-width="1" />
<text x="291.00" y="40.00" font-size="9.6" fill="#333" text-anchor="end" stroke="#333" stroke-width="0.16" >8</text>
<line x1="292.80" y1="25.60" x2="296.60" y2="25.60" stroke="#333" stroke-width="1" />
<text x="291.00" y="29.00" font-size="9.6" fill="#333" text-anchor="end" stroke="#333" stroke-width="0.16" >9</text>
<line x1="294.40" y1="123.00" x2="294.40" y2="126.50" stroke="#333" stroke-width="1" />
<text x="294.40" y="133.80" font-size="9.2" fill="#333" text-anchor="middle" stroke="#333" stroke-width="0.16" >8</text>
<line x1="314.00" y1="123.00" x2="314.00" y2="126.50" stroke="#333" stroke-width="1" />
<text x="314.00" y="133.80" font-size="9.2" fill="#333" text-anchor="middle" stroke="#333" stroke-width="0.16" >9</text>
<line x1="333.60" y1="123.00" x2="333.60" y2="126.50" stroke="#333" stroke-width="1" />
<text x="333.60" y="133.80" font-size="9.2" fill="#333" text-anchor="middle" stroke="#333" stroke-width="0.16" >10</text>
<line x1="353.20" y1="123.00" x2="353.20" y2="126.50" stroke="#333" stroke-width="1" />
<text x="353.20" y="133.80" font-size="9.2" fill="#333" text-anchor="middle" stroke="#333" stroke-width="0.16" >11</text>
<line x1="372.80" y1="123.00" x2="372.80" y2="126.50" stroke="#333" stroke-width="1" />
<text x="372.80" y="133.80" font-size="9.2" fill="#333" text-anchor="middle" stroke="#333" stroke-width="0.16" >12</text>
<line x1="392.40" y1="123.00" x2="392.40" y2="126.50" stroke="#333" stroke-width="1" />
<text x="392.40" y="133.80" font-size="9.2" fill="#333" text-anchor="middle" stroke="#333" stroke-width="0.16" >13</text>
<line x1="412.00" y1="123.00" x2="412.00" y2="126.50" stroke="#333" stroke-width="1" />
<text x="412.00" y="133.80" font-size="9.2" fill="#333" text-anchor="middle" stroke="#333" stroke-width="0.16" >14</text>
<line x1="431.60" y1="123.00" x2="431.60" y2="126.50" stroke="#333" stroke-width="1" />
<text x="431.60" y="133.80" font-size="9.2" fill="#333" text-anchor="middle" stroke="#333" stroke-width="0.16" >15</text>
<line x1="451.20" y1="123.00" x2="451.20" y2="126.50" stroke="#333" stroke-width="1" />
<text x="451.20" y="133.80" font-size="9.2" fill="#333" text-anchor="middle" stroke="#333" stroke-width="0.16" >16</text>
<line x1="470.80" y1="123.00" x2="470.80" y2="126.50" stroke="#333" stroke-width="1" />
<text x="470.80" y="133.80" font-size="9.2" fill="#333" text-anchor="middle" stroke="#333" stroke-width="0.16" >17</text>
<text x="273.50" y="74.50" font-size="8.7" fill="#333" text-anchor="middle" stroke="#333" stroke-width="0.16" textLength="100" lengthAdjust="spacingAndGlyphs" transform="rotate(-90 273.5 74.5)" dy="3">Absorbance 280 nm (a.u.)</text>
<text x="407.40" y="48.50" font-size="9.6" fill="#222" text-anchor="start" stroke="#222" stroke-width="0.16" textLength="88.4" lengthAdjust="spacingAndGlyphs" >Superdex 75 10/300</text>
<path d="M304.20,124.60 L304.62,124.28 L305.05,123.73 L305.47,122.78 L305.90,121.26 L306.32,119.08 L306.75,116.69 L307.17,114.23 L307.60,111.73 L308.02,109.18 L308.45,106.60 L308.87,104.01 L309.30,101.36 L309.72,98.61 L310.15,95.83 L310.57,93.08 L310.99,90.42 L311.42,87.92 L311.84,85.82 L312.27,84.13 L312.69,82.85 L313.12,81.95 L313.54,81.41 L313.97,81.22 L314.39,81.34 L314.82,81.54 L315.24,81.79 L315.67,82.07 L316.09,82.36 L316.52,82.65 L316.94,82.94 L317.36,83.20 L317.79,83.43 L318.21,83.60 L318.64,83.70 L319.06,83.72 L319.49,83.71 L319.91,83.68 L320.34,83.68 L320.76,83.74 L321.19,83.88 L321.61,84.13 L322.04,84.54 L322.46,85.09 L322.89,85.71 L323.31,86.36 L323.73,87.04 L324.16,87.74 L324.58,88.47 L325.01,89.21 L325.43,89.97 L325.86,90.73 L326.28,91.50 L326.71,92.26 L327.13,93.01 L327.56,93.76 L327.98,94.51 L328.41,95.27 L328.83,96.03 L329.26,96.79 L329.68,97.55 L330.10,98.31 L330.53,99.07 L330.95,99.84 L331.38,100.59 L331.80,101.35 L332.23,102.10 L332.65,102.84 L333.08,103.58 L333.50,104.31 L333.93,105.01 L334.35,105.67 L334.78,106.32 L335.20,106.93 L335.63,107.53 L336.05,108.11 L336.47,108.67 L336.90,109.21 L337.32,109.75 L337.75,110.27 L338.17,110.78 L338.60,111.29 L339.02,111.80 L339.45,112.31 L339.87,112.81 L340.30,113.33 L340.72,113.84 L341.15,114.34 L341.57,114.81 L342.00,115.24 L342.42,115.61 L342.84,115.91 L343.27,116.13 L343.69,116.25 L344.12,116.26 L344.54,116.14 L344.97,115.89 L345.39,115.56 L345.82,115.18 L346.24,114.75 L346.67,114.27 L347.09,113.77 L347.52,113.25 L347.94,112.71 L348.37,112.17 L348.79,111.64 L349.21,111.12 L349.64,110.62 L350.06,110.15 L350.49,109.72 L350.91,109.27 L351.34,108.78 L351.76,108.26 L352.19,107.72 L352.61,107.19 L353.04,106.70 L353.46,106.24 L353.89,105.85 L354.31,105.54 L354.74,105.33 L355.16,105.24 L355.58,105.29 L356.01,105.47 L356.43,105.71 L356.86,105.98 L357.28,106.30 L357.71,106.64 L358.13,107.01 L358.56,107.41 L358.98,107.82 L359.41,108.25 L359.83,108.69 L360.26,109.14 L360.68,109.59 L361.11,110.04 L361.53,110.49 L361.95,110.92 L362.38,111.34 L362.80,111.76 L363.23,112.19 L363.65,112.62 L364.08,113.05 L364.50,113.48 L364.93,113.91 L365.35,114.35 L365.78,114.78 L366.20,115.21 L366.63,115.65 L367.05,116.07 L367.48,116.50 L367.90,116.92 L368.32,117.34 L368.75,117.75 L369.17,118.16 L369.60,118.56 L370.02,118.94 L370.45,119.29 L370.87,119.61 L371.30,119.91 L371.72,120.19 L372.15,120.46 L372.57,120.71 L373.00,120.95 L373.42,121.17 L373.85,121.39 L374.27,121.61 L374.69,121.82 L375.12,122.02 L375.54,122.19 L375.97,122.33 L376.39,122.45 L376.82,122.54 L377.24,122.61 L377.67,122.67 L378.09,122.71 L378.52,122.73 L378.94,122.75 L379.37,122.75 L379.79,122.75 L380.22,122.74 L380.64,122.74 L381.06,122.73 L381.49,122.72 L381.91,122.70 L382.34,122.67 L382.76,122.61 L383.19,122.53 L383.61,122.42 L384.04,122.27 L384.46,122.08 L384.89,121.83 L385.31,121.54 L385.74,121.18 L386.16,120.75 L386.59,120.26 L387.01,119.69 L387.43,119.03 L387.86,118.29 L388.28,117.45 L388.71,116.48 L389.13,115.36 L389.56,114.12 L389.98,112.79 L390.41,111.40 L390.83,109.98 L391.26,108.55 L391.68,107.15 L392.11,105.81 L392.53,104.54 L392.96,103.32 L393.38,102.05 L393.80,100.80 L394.23,99.63 L394.65,98.61 L395.08,97.79 L395.50,97.24 L395.93,97.00 L396.35,97.03 L396.78,97.30 L397.20,97.77 L397.63,98.40 L398.05,99.16 L398.48,100.01 L398.90,100.92 L399.33,101.83 L399.75,102.73 L400.17,103.61 L400.60,104.53 L401.02,105.49 L401.45,106.47 L401.87,107.45 L402.30,108.43 L402.72,109.39 L403.15,110.31 L403.57,111.18 L404.00,111.99 L404.42,112.73 L404.85,113.45 L405.27,114.14 L405.70,114.80 L406.12,115.44 L406.54,116.06 L406.97,116.65 L407.39,117.21 L407.82,117.73 L408.24,118.23 L408.67,118.70 L409.09,119.13 L409.52,119.55 L409.94,119.95 L410.37,120.35 L410.79,120.72 L411.22,121.08 L411.64,121.42 L412.07,121.73 L412.49,122.02 L412.91,122.28 L413.34,122.51 L413.76,122.70 L414.19,122.85 L414.61,122.97 L415.04,123.06 L415.46,123.15 L415.89,123.24 L416.31,123.33 L416.74,123.41 L417.16,123.49 L417.59,123.57 L418.01,123.64 L418.44,123.70 L418.86,123.76 L419.28,123.82 L419.71,123.87 L420.13,123.92 L420.56,123.96 L420.98,124.00 L421.41,124.03 L421.83,124.05 L422.26,124.08 L422.68,124.10 L423.11,124.12 L423.53,124.15 L423.96,124.17 L424.38,124.20 L424.81,124.22 L425.23,124.24 L425.65,124.26 L426.08,124.28 L426.50,124.30 L426.93,124.32 L427.35,124.34 L427.78,124.35 L428.20,124.37 L428.63,124.38 L429.05,124.39 L429.48,124.39 L429.90,124.40 L430.33,124.40 L430.75,124.39 L431.18,124.39 L431.60,124.38" fill="none" stroke="#666" stroke-width="1.1" stroke-linejoin="round" stroke-dasharray="3,2.2"/>
<path d="M294.40,124.05 L294.99,124.05 L295.58,124.05 L296.17,124.05 L296.77,124.05 L297.36,124.05 L297.95,124.05 L298.54,124.05 L299.13,124.05 L299.72,124.05 L300.31,124.05 L300.90,124.05 L301.50,124.05 L302.09,124.05 L302.68,124.05 L303.27,124.05 L303.86,124.05 L304.45,124.05 L305.04,124.05 L305.63,124.05 L306.23,124.05 L306.82,124.05 L307.41,124.05 L308.00,124.05 L308.59,124.05 L309.18,124.05 L309.77,124.05 L310.36,124.05 L310.96,124.05 L311.55,124.05 L312.14,124.05 L312.73,124.05 L313.32,124.05 L313.91,124.05 L314.50,124.05 L315.09,124.05 L315.69,124.05 L316.28,124.05 L316.87,124.05 L317.46,124.05 L318.05,124.05 L318.64,124.05 L319.23,124.05 L319.82,124.05 L320.42,124.05 L321.01,124.05 L321.60,124.05 L322.19,124.05 L322.78,124.05 L323.37,124.05 L323.96,124.05 L324.55,124.05 L325.15,124.05 L325.74,124.05 L326.33,124.05 L326.92,124.05 L327.51,124.05 L328.10,124.05 L328.69,124.05 L329.28,124.05 L329.88,124.05 L330.47,124.05 L331.06,124.05 L331.65,124.05 L332.24,124.05 L332.83,124.05 L333.42,124.05 L334.01,124.05 L334.61,124.05 L335.20,124.05 L335.79,124.05 L336.38,124.05 L336.97,124.05 L337.56,124.05 L338.15,124.05 L338.74,124.05 L339.34,124.05 L339.93,124.05 L340.52,124.05 L341.11,124.05 L341.70,124.05 L342.29,124.05 L342.88,124.05 L343.48,124.05 L344.07,124.05 L344.66,124.05 L345.25,124.05 L345.84,124.05 L346.43,124.05 L347.02,124.05 L347.61,124.05 L348.21,124.05 L348.80,124.05 L349.39,124.05 L349.98,124.05 L350.57,124.05 L351.16,124.05 L351.75,124.05 L352.34,124.05 L352.94,124.05 L353.53,124.05 L354.12,124.05 L354.71,124.05 L355.30,124.05 L355.89,124.05 L356.48,124.05 L357.07,124.05 L357.67,124.05 L358.26,124.05 L358.85,124.05 L359.44,124.05 L360.03,124.05 L360.62,124.05 L361.21,124.05 L361.80,124.05 L362.40,124.05 L362.99,124.05 L363.58,124.05 L364.17,124.05 L364.76,124.05 L365.35,124.05 L365.94,124.05 L366.53,124.05 L367.13,124.05 L367.72,124.05 L368.31,124.05 L368.90,124.05 L369.49,124.05 L370.08,124.05 L370.67,124.05 L371.26,124.05 L371.86,124.05 L372.45,124.05 L373.04,124.05 L373.63,124.05 L374.22,124.05 L374.81,124.05 L375.40,124.05 L375.99,124.05 L376.59,124.05 L377.18,124.05 L377.77,124.05 L378.36,124.05 L378.95,124.04 L379.54,123.97 L380.13,123.82 L380.72,123.61 L381.32,123.34 L381.91,123.03 L382.50,122.69 L383.09,122.31 L383.68,121.91 L384.27,121.50 L384.86,121.07 L385.46,120.50 L386.05,119.82 L386.64,119.04 L387.23,118.19 L387.82,117.29 L388.41,116.37 L389.00,115.46 L389.59,114.57 L390.19,113.61 L390.78,112.45 L391.37,111.21 L391.96,109.99 L392.55,108.88 L393.14,108.01 L393.73,107.46 L394.32,107.33 L394.92,107.40 L395.51,107.55 L396.10,107.77 L396.69,108.05 L397.28,108.39 L397.87,108.76 L398.46,109.17 L399.05,109.60 L399.65,110.04 L400.24,110.53 L400.83,111.21 L401.42,112.04 L402.01,112.97 L402.60,113.96 L403.19,114.95 L403.78,115.90 L404.38,116.76 L404.97,117.47 L405.56,118.11 L406.15,118.74 L406.74,119.36 L407.33,119.94 L407.92,120.47 L408.51,120.96 L409.11,121.37 L409.70,121.70 L410.29,121.95 L410.88,122.17 L411.47,122.37 L412.06,122.57 L412.65,122.75 L413.24,122.92 L413.84,123.08 L414.43,123.22 L415.02,123.34 L415.61,123.45 L416.20,123.55 L416.79,123.62 L417.38,123.68 L417.97,123.73 L418.57,123.76 L419.16,123.79 L419.75,123.83 L420.34,123.86 L420.93,123.89 L421.52,123.92 L422.11,123.94 L422.70,123.97 L423.30,123.99 L423.89,124.01 L424.48,124.04 L425.07,124.05 L425.66,124.07 L426.25,124.09 L426.84,124.10 L427.44,124.12 L428.03,124.13 L428.62,124.14 L429.21,124.15 L429.80,124.15 L430.39,124.16 L430.98,124.16 L431.57,124.16 L432.17,124.16 L432.76,124.16 L433.35,124.16 L433.94,124.16 L434.53,124.16 L435.12,124.16 L435.71,124.16 L436.30,124.16 L436.90,124.16 L437.49,124.16 L438.08,124.16 L438.67,124.16 L439.26,124.16 L439.85,124.16 L440.44,124.16 L441.03,124.16 L441.63,124.16 L442.22,124.16 L442.81,124.16 L443.40,124.16 L443.99,124.16 L444.58,124.16 L445.17,124.16 L445.76,124.16 L446.36,124.16 L446.95,124.16 L447.54,124.16 L448.13,124.16 L448.72,124.16 L449.31,124.16 L449.90,124.16 L450.49,124.16 L451.09,124.16 L451.68,124.16 L452.27,124.16 L452.86,124.16 L453.45,124.16 L454.04,124.16 L454.63,124.16 L455.22,124.16 L455.82,124.16 L456.41,124.16 L457.00,124.16 L457.59,124.16 L458.18,124.16 L458.77,124.16 L459.36,124.16 L459.95,124.16 L460.55,124.16 L461.14,124.16 L461.73,124.16 L462.32,124.16 L462.91,124.16 L463.50,124.16 L464.09,124.16 L464.68,124.16 L465.28,124.16 L465.87,124.16 L466.46,124.16 L467.05,124.16 L467.64,124.16 L468.23,124.16 L468.82,124.16 L469.41,124.16 L470.01,124.16 L470.60,124.16 L470.80,124.16 L470.80,124.16" fill="none" stroke="#c9b99b" stroke-width="1.2" stroke-linejoin="round" />
<path d="M294.40,124.27 L294.84,124.33 L295.29,124.39 L295.73,124.45 L296.17,124.50 L296.62,124.56 L297.06,124.60 L297.50,124.60 L297.95,124.60 L298.39,124.60 L298.83,124.60 L299.28,124.60 L299.72,124.60 L300.16,124.60 L300.61,124.60 L301.05,124.60 L301.50,124.60 L301.94,124.60 L302.38,124.60 L302.83,124.60 L303.27,124.60 L303.71,124.60 L304.16,124.60 L304.60,124.60 L305.04,124.60 L305.49,124.60 L305.93,124.60 L306.37,124.60 L306.82,124.60 L307.26,124.60 L307.70,124.60 L308.15,124.60 L308.59,124.60 L309.03,124.60 L309.48,124.60 L309.92,124.60 L310.36,124.60 L310.81,124.60 L311.25,124.60 L311.69,124.60 L312.14,124.60 L312.58,124.60 L313.02,124.60 L313.47,124.60 L313.91,124.60 L314.36,124.60 L314.80,124.60 L315.24,124.60 L315.69,124.60 L316.13,124.60 L316.57,124.60 L317.02,124.60 L317.46,124.60 L317.90,124.60 L318.35,124.60 L318.79,124.60 L319.23,124.60 L319.68,124.60 L320.12,124.60 L320.56,124.60 L321.01,124.60 L321.45,124.60 L321.89,124.60 L322.34,124.60 L322.78,124.60 L323.22,124.60 L323.67,124.60 L324.11,124.60 L324.55,124.60 L325.00,124.60 L325.44,124.60 L325.88,124.60 L326.33,124.60 L326.77,124.60 L327.22,124.60 L327.66,124.60 L328.10,124.60 L328.55,124.60 L328.99,124.60 L329.43,124.60 L329.88,124.60 L330.32,124.60 L330.76,124.60 L331.21,124.58 L331.65,124.56 L332.09,124.53 L332.54,124.51 L332.98,124.49 L333.42,124.47 L333.87,124.44 L334.31,124.42 L334.75,124.40 L335.20,124.38 L335.64,124.36 L336.08,124.34 L336.53,124.32 L336.97,124.30 L337.41,124.28 L337.86,124.26 L338.30,124.24 L338.74,124.22 L339.19,124.21 L339.63,124.19 L340.08,124.18 L340.52,124.16 L340.96,124.15 L341.41,124.13 L341.85,124.12 L342.29,124.11 L342.74,124.10 L343.18,124.09 L343.62,124.08 L344.07,124.07 L344.51,124.06 L344.95,124.06 L345.40,124.05 L345.84,124.07 L346.28,124.12 L346.73,124.15 L347.17,124.12 L347.61,124.00 L348.06,123.74 L348.50,123.31 L348.94,122.16 L349.39,118.37 L349.83,112.60 L350.27,105.84 L350.72,99.06 L351.16,92.71 L351.61,85.96 L352.05,79.11 L352.49,72.56 L352.94,66.67 L353.38,61.48 L353.82,56.88 L354.27,52.81 L354.71,49.21 L355.15,46.03 L355.60,43.21 L356.04,40.69 L356.48,38.41 L356.93,36.42 L357.37,34.77 L357.81,33.48 L358.26,32.60 L358.70,32.18 L359.14,32.24 L359.59,32.58 L360.03,33.10 L360.47,33.82 L360.92,34.79 L361.36,36.04 L361.80,37.59 L362.25,39.50 L362.69,41.63 L363.13,43.86 L363.58,46.16 L364.02,48.51 L364.47,50.86 L364.91,53.20 L365.35,55.49 L365.80,57.71 L366.24,59.82 L366.68,61.81 L367.13,63.77 L367.57,65.71 L368.01,67.64 L368.46,69.55 L368.90,71.43 L369.34,73.27 L369.79,75.07 L370.23,76.81 L370.67,78.50 L371.12,80.12 L371.56,81.68 L372.00,83.18 L372.45,84.63 L372.89,86.03 L373.33,87.37 L373.78,88.66 L374.22,89.89 L374.66,91.08 L375.11,92.22 L375.55,93.31 L375.99,94.37 L376.44,95.42 L376.88,96.44 L377.33,97.43 L377.77,98.40 L378.21,99.33 L378.66,100.23 L379.10,101.10 L379.54,101.92 L379.99,102.70 L380.43,103.44 L380.87,104.12 L381.32,104.77 L381.76,105.40 L382.20,106.02 L382.65,106.63 L383.09,107.22 L383.53,107.80 L383.98,108.37 L384.42,108.92 L384.86,109.45 L385.31,109.97 L385.75,110.48 L386.19,110.97 L386.64,111.44 L387.08,111.90 L387.52,112.34 L387.97,112.76 L388.41,113.17 L388.85,113.57 L389.30,113.97 L389.74,114.36 L390.19,114.75 L390.63,115.14 L391.07,115.52 L391.52,115.89 L391.96,116.24 L392.40,116.59 L392.85,116.92 L393.29,117.24 L393.73,117.54 L394.18,117.82 L394.62,118.08 L395.06,118.32 L395.51,118.54 L395.95,118.74 L396.39,118.93 L396.84,119.12 L397.28,119.31 L397.72,119.49 L398.17,119.66 L398.61,119.83 L399.05,119.98 L399.50,120.14 L399.94,120.28 L400.38,120.42 L400.83,120.54 L401.27,120.67 L401.71,120.78 L402.16,120.88 L402.60,120.97 L403.05,121.06 L403.49,121.15 L403.93,121.24 L404.38,121.32 L404.82,121.41 L405.26,121.49 L405.71,121.57 L406.15,121.65 L406.59,121.72 L407.04,121.80 L407.48,121.87 L407.92,121.94 L408.37,122.00 L408.81,122.06 L409.25,122.12 L409.70,122.18 L410.14,122.24 L410.58,122.30 L411.03,122.36 L411.47,122.42 L411.91,122.48 L412.36,122.54 L412.80,122.60 L413.24,122.65 L413.69,122.71 L414.13,122.77 L414.57,122.82 L415.02,122.87 L415.46,122.92 L415.91,122.97 L416.35,123.01 L416.79,123.05 L417.24,123.09 L417.68,123.13 L418.12,123.16 L418.57,123.19 L419.01,123.22 L419.45,123.24 L419.90,123.26 L420.34,123.28 L420.78,123.29 L421.23,123.30 L421.67,123.31 L422.11,123.32 L422.56,123.32 L423.00,123.33 L423.44,123.33 L423.89,123.34 L424.33,123.34 L424.77,123.34 L425.22,123.34 L425.66,123.34 L426.10,123.34 L426.55,123.34 L426.99,123.34 L427.43,123.34 L427.88,123.33 L428.32,123.33 L428.77,123.32 L429.21,123.32 L429.65,123.31 L430.10,123.31 L430.54,123.30 L430.98,123.29 L431.43,123.28 L431.87,123.28 L432.31,123.27 L432.76,123.26 L433.20,123.25 L433.64,123.24 L434.09,123.23 L434.53,123.23 L434.97,123.22 L435.42,123.21 L435.86,123.20 L436.30,123.19 L436.75,123.18 L437.19,123.18 L437.63,123.17 L438.08,123.16 L438.52,123.15 L438.96,123.14 L439.41,123.13 L439.85,123.12 L440.30,123.11 L440.74,123.09 L441.18,123.08 L441.63,123.07 L442.07,123.06 L442.51,123.05 L442.96,123.03 L443.40,123.02 L443.84,123.00 L444.29,122.99 L444.73,122.97 L445.17,122.96 L445.62,122.94 L446.06,122.92 L446.50,122.90 L446.95,122.88 L447.39,122.86 L447.83,122.84 L448.28,122.82 L448.72,122.80 L449.16,122.78 L449.61,122.76 L450.05,122.74 L450.49,122.71 L450.94,122.69 L451.38,122.67 L451.82,122.64 L452.27,122.62 L452.71,122.59 L453.16,122.57 L453.60,122.54 L454.04,122.51 L454.49,122.49 L454.93,122.46 L455.37,122.43 L455.82,122.40 L456.26,122.37 L456.70,122.34 L457.15,122.31 L457.59,122.28 L458.03,122.25 L458.48,122.22 L458.92,122.19 L459.36,122.16 L459.81,122.12 L460.25,122.09 L460.69,122.06 L461.14,122.02 L461.58,121.99 L462.02,121.96 L462.47,121.92 L462.91,121.89 L463.35,121.85 L463.80,121.81 L464.24,121.78 L464.68,121.74 L465.13,121.70 L465.57,121.66 L466.02,121.62 L466.46,121.59 L466.90,121.55 L467.35,121.51 L467.79,121.47 L468.23,121.42 L468.68,121.38 L469.12,121.34 L469.56,121.30 L470.01,121.26 L470.45,121.21 L470.89,121.17 L471.34,121.12 L471.78,121.08" fill="none" stroke="#6cbf45" stroke-width="1.2" stroke-linejoin="round" />
<path d="M294.40,122.95 L294.84,122.94 L295.29,122.93 L295.73,122.92 L296.17,122.92 L296.62,122.91 L297.06,122.90 L297.50,122.89 L297.95,122.88 L298.39,122.88 L298.83,122.87 L299.28,122.86 L299.72,122.85 L300.16,122.84 L300.61,122.84 L301.05,122.83 L301.50,122.82 L301.94,122.81 L302.38,122.81 L302.83,122.80 L303.27,122.79 L303.71,122.78 L304.16,122.78 L304.60,122.77 L305.04,122.76 L305.49,122.75 L305.93,122.75 L306.37,122.74 L306.82,122.73 L307.26,122.73 L307.70,122.72 L308.15,122.71 L308.59,122.71 L309.03,122.70 L309.48,122.69 L309.92,122.68 L310.36,122.68 L310.81,122.67 L311.25,122.66 L311.69,122.66 L312.14,122.65 L312.58,122.64 L313.02,122.64 L313.47,122.63 L313.91,122.62 L314.36,122.61 L314.80,122.61 L315.24,122.60 L315.69,122.60 L316.13,122.59 L316.57,122.58 L317.02,122.58 L317.46,122.57 L317.90,122.57 L318.35,122.57 L318.79,122.56 L319.23,122.56 L319.68,122.55 L320.12,122.55 L320.56,122.55 L321.01,122.54 L321.45,122.54 L321.89,122.53 L322.34,122.53 L322.78,122.53 L323.22,122.52 L323.67,122.52 L324.11,122.52 L324.55,122.51 L325.00,122.51 L325.44,122.51 L325.88,122.50 L326.33,122.50 L326.77,122.49 L327.22,122.49 L327.66,122.49 L328.10,122.48 L328.55,122.48 L328.99,122.47 L329.43,122.47 L329.88,122.46 L330.32,122.45 L330.76,122.45 L331.21,122.44 L331.65,122.43 L332.09,122.43 L332.54,122.42 L332.98,122.41 L333.42,122.40 L333.87,122.39 L334.31,122.38 L334.75,122.37 L335.20,122.36 L335.64,122.35 L336.08,122.33 L336.53,122.32 L336.97,122.30 L337.41,122.28 L337.86,122.27 L338.30,122.25 L338.74,122.23 L339.19,122.21 L339.63,122.19 L340.08,122.17 L340.52,122.15 L340.96,122.13 L341.41,122.11 L341.85,122.09 L342.29,122.07 L342.74,122.05 L343.18,122.03 L343.62,122.01 L344.07,122.00 L344.51,121.98 L344.95,121.96 L345.40,121.94 L345.84,121.93 L346.28,121.91 L346.73,121.90 L347.17,121.88 L347.61,121.87 L348.06,121.85 L348.50,121.84 L348.94,121.83 L349.39,121.81 L349.83,121.80 L350.27,121.79 L350.72,121.78 L351.16,121.76 L351.61,121.75 L352.05,121.74 L352.49,121.73 L352.94,121.72 L353.38,121.71 L353.82,121.70 L354.27,121.69 L354.71,121.68 L355.15,121.67 L355.60,121.66 L356.04,121.65 L356.48,121.64 L356.93,121.63 L357.37,121.62 L357.81,121.61 L358.26,121.61 L358.70,121.60 L359.14,121.59 L359.59,121.58 L360.03,121.57 L360.47,121.56 L360.92,121.55 L361.36,121.54 L361.80,121.53 L362.25,121.52 L362.69,121.51 L363.13,121.50 L363.58,121.49 L364.02,121.48 L364.47,121.47 L364.91,121.46 L365.35,121.45 L365.80,121.44 L366.24,121.42 L366.68,121.41 L367.13,121.40 L367.57,121.39 L368.01,121.37 L368.46,121.36 L368.90,121.35 L369.34,121.33 L369.79,121.32 L370.23,121.30 L370.67,121.07 L371.12,120.39 L371.56,119.27 L372.00,117.72 L372.45,115.77 L372.89,113.42 L373.33,110.71 L373.78,107.67 L374.22,104.36 L374.66,100.83 L375.11,97.13 L375.55,93.31 L375.99,89.43 L376.44,85.37 L376.88,81.09 L377.33,76.66 L377.77,72.17 L378.21,67.67 L378.66,63.24 L379.10,58.96 L379.54,54.90 L379.99,51.18 L380.43,47.97 L380.87,45.25 L381.32,43.00 L381.76,41.21 L382.20,39.85 L382.65,38.92 L383.09,38.36 L383.53,38.12 L383.98,38.24 L384.42,38.76 L384.86,39.71 L385.31,41.14 L385.75,43.09 L386.19,45.59 L386.64,48.38 L387.08,51.29 L387.52,54.26 L387.97,57.27 L388.41,60.26 L388.85,63.21 L389.30,66.07 L389.74,68.80 L390.19,71.49 L390.63,74.19 L391.07,76.88 L391.52,79.53 L391.96,82.14 L392.40,84.67 L392.85,87.13 L393.29,89.48 L393.73,91.70 L394.18,93.72 L394.62,95.57 L395.06,97.27 L395.51,98.82 L395.95,100.24 L396.39,101.54 L396.84,102.75 L397.28,103.88 L397.72,104.99 L398.17,106.07 L398.61,107.10 L399.05,108.09 L399.50,109.02 L399.94,109.89 L400.38,110.68 L400.83,111.40 L401.27,112.07 L401.71,112.73 L402.16,113.37 L402.60,113.99 L403.05,114.60 L403.49,115.18 L403.93,115.73 L404.38,116.26 L404.82,116.76 L405.26,117.24 L405.71,117.71 L406.15,118.18 L406.59,118.62 L407.04,119.05 L407.48,119.44 L407.92,119.81 L408.37,120.13 L408.81,120.40 L409.25,120.62 L409.70,120.83 L410.14,121.04 L410.58,121.23 L411.03,121.42 L411.47,121.61 L411.91,121.78 L412.36,121.95 L412.80,122.11 L413.24,122.27 L413.69,122.42 L414.13,122.56 L414.57,122.69 L415.02,122.81 L415.46,122.93 L415.91,123.04 L416.35,123.14 L416.79,123.24 L417.24,123.33 L417.68,123.40 L418.12,123.48 L418.57,123.54 L419.01,123.60 L419.45,123.64 L419.90,123.68 L420.34,123.71 L420.78,123.74 L421.23,123.77 L421.67,123.79 L422.11,123.82 L422.56,123.85 L423.00,123.87 L423.44,123.90 L423.89,123.93 L424.33,123.95 L424.77,123.98 L425.22,124.00 L425.66,124.03 L426.10,124.05 L426.55,124.08 L426.99,124.10 L427.43,124.13 L427.88,124.15 L428.32,124.17 L428.77,124.19 L429.21,124.21 L429.65,124.23 L430.10,124.25 L430.54,124.27 L430.98,124.29 L431.43,124.30 L431.87,124.32 L432.31,124.33 L432.76,124.34 L433.20,124.35 L433.64,124.36 L434.09,124.37 L434.53,124.37 L434.97,124.38 L435.42,124.38 L435.86,124.38 L436.30,124.38 L436.75,124.38 L437.19,124.38 L437.63,124.37 L438.08,124.37 L438.52,124.37 L438.96,124.36 L439.41,124.36 L439.85,124.36 L440.30,124.36 L440.74,124.35 L441.18,124.35 L441.63,124.35 L442.07,124.34 L442.51,124.34 L442.96,124.34 L443.40,124.34 L443.84,124.33 L444.29,124.33 L444.73,124.33 L445.17,124.32 L445.62,124.32 L446.06,124.32 L446.50,124.31 L446.95,124.31 L447.39,124.31 L447.83,124.30 L448.28,124.30 L448.72,124.29 L449.16,124.29 L449.61,124.29 L450.05,124.28 L450.49,124.28 L450.94,124.27 L451.38,124.27 L451.82,124.26 L452.27,124.26 L452.71,124.25 L453.16,124.25 L453.60,124.25 L454.04,124.24 L454.49,124.24 L454.93,124.23 L455.37,124.23 L455.82,124.22 L456.26,124.22 L456.70,124.21 L457.15,124.21 L457.59,124.20 L458.03,124.20 L458.48,124.20 L458.92,124.19 L459.36,124.19 L459.81,124.18 L460.25,124.18 L460.69,124.17 L461.14,124.17 L461.58,124.16 L462.02,124.16 L462.47,124.15 L462.91,124.15 L463.35,124.15 L463.80,124.14 L464.24,124.14 L464.68,124.13 L465.13,124.13 L465.57,124.12 L466.02,124.12 L466.46,124.11 L466.90,124.11 L467.35,124.10 L467.79,124.10 L468.23,124.09 L468.68,124.09 L469.12,124.08 L469.56,124.08 L470.01,124.07 L470.45,124.07 L470.89,124.06 L471.34,124.06 L471.78,124.05" fill="none" stroke="#2f3a8f" stroke-width="1.4" stroke-linejoin="round" />
<text x="314.80" y="72.10" font-size="9.4" fill="#7a7a7a" text-anchor="middle" stroke="#7a7a7a" stroke-width="0.16" >670</text>
<line x1="314.80" y1="74.00" x2="314.80" y2="79.00" stroke="#777" stroke-width="1" />
<text x="325.70" y="79.00" font-size="9.4" fill="#7a7a7a" text-anchor="middle" stroke="#7a7a7a" stroke-width="0.16" >158</text>
<line x1="322.60" y1="80.00" x2="322.60" y2="84.00" stroke="#777" stroke-width="1" />
<text x="357.50" y="101.20" font-size="9.4" fill="#7a7a7a" text-anchor="middle" stroke="#7a7a7a" stroke-width="0.16" >44</text>
<line x1="356.50" y1="103.00" x2="356.50" y2="107.00" stroke="#777" stroke-width="1" />
<text x="398.00" y="88.80" font-size="9.4" fill="#7a7a7a" text-anchor="middle" stroke="#7a7a7a" stroke-width="0.16" >17</text>
<line x1="397.00" y1="90.50" x2="397.00" y2="95.00" stroke="#777" stroke-width="1" />
<line x1="332.70" y1="138.50" x2="444.60" y2="138.50" stroke="#555" stroke-width="1.7" />
<text x="388.50" y="147.80" font-size="8.6" fill="#333" text-anchor="middle" stroke="#333" stroke-width="0.16" textLength="74" lengthAdjust="spacingAndGlyphs" >Elution Volume (ml)</text>
<line x1="332.50" y1="139.00" x2="296.00" y2="161.00" stroke="#999" stroke-width="0.9" stroke-dasharray="2,2"/>
<line x1="444.60" y1="139.00" x2="466.00" y2="161.00" stroke="#999" stroke-width="0.9" stroke-dasharray="2,2"/>
<text x="276.00" y="159.20" font-size="9" fill="#222" text-anchor="start" stroke="#222" stroke-width="0.16" >kD</text>
<rect x="294.2" y="162.9" width="171.4" height="79.0" fill="#dfdfdf" stroke="#444" stroke-width="1.4"/>
<rect x="300" y="163.9" width="6" height="77.0" fill="#e8e8e8" opacity="0.3"/>
<rect x="318" y="163.9" width="8" height="77.0" fill="#d4d4d4" opacity="0.3"/>
<rect x="335" y="163.9" width="10" height="77.0" fill="#e8e8e8" opacity="0.3"/>
<rect x="352" y="163.9" width="6" height="77.0" fill="#d4d4d4" opacity="0.3"/>
<rect x="368" y="163.9" width="8" height="77.0" fill="#e8e8e8" opacity="0.3"/>
<rect x="390" y="163.9" width="10" height="77.0" fill="#d4d4d4" opacity="0.3"/>
<rect x="410" y="163.9" width="6" height="77.0" fill="#e8e8e8" opacity="0.3"/>
<rect x="430" y="163.9" width="8" height="77.0" fill="#d4d4d4" opacity="0.3"/>
<rect x="447" y="163.9" width="10" height="77.0" fill="#e8e8e8" opacity="0.3"/>
<text x="287.20" y="169.40" font-size="9" fill="#222" text-anchor="end" stroke="#222" stroke-width="0.16" >50</text>
<line x1="288.50" y1="166.20" x2="293.50" y2="166.20" stroke="#222" stroke-width="1" />
<rect x="294.5" y="164.6" width="2.6" height="3.2" fill="#111"/>
<text x="287.20" y="177.20" font-size="9" fill="#222" text-anchor="end" stroke="#222" stroke-width="0.16" >37</text>
<line x1="288.50" y1="174.00" x2="293.50" y2="174.00" stroke="#222" stroke-width="1" />
<text x="287.20" y="190.20" font-size="9" fill="#222" text-anchor="end" stroke="#222" stroke-width="0.16" >25</text>
<line x1="288.50" y1="187.00" x2="293.50" y2="187.00" stroke="#222" stroke-width="1" />
<rect x="294.5" y="185.4" width="2.6" height="3.2" fill="#111"/>
<text x="287.20" y="197.40" font-size="9" fill="#222" text-anchor="end" stroke="#222" stroke-width="0.16" >20</text>
<line x1="288.50" y1="194.20" x2="293.50" y2="194.20" stroke="#222" stroke-width="1" />
<text x="287.20" y="210.90" font-size="9" fill="#222" text-anchor="end" stroke="#222" stroke-width="0.16" >15</text>
<line x1="288.50" y1="207.70" x2="293.50" y2="207.70" stroke="#222" stroke-width="1" />
<text x="287.20" y="227.60" font-size="9" fill="#222" text-anchor="end" stroke="#222" stroke-width="0.16" >10</text>
<line x1="288.50" y1="224.40" x2="293.50" y2="224.40" stroke="#222" stroke-width="1" />
<line x1="303.00" y1="158.50" x2="317.30" y2="158.50" stroke="#2b3a8c" stroke-width="2.2" />
<text x="320.60" y="161.80" font-size="9.2" fill="#222" text-anchor="start" stroke="#222" stroke-width="0.16" textLength="21.5" lengthAdjust="spacingAndGlyphs" >KNL1</text>
<text x="342.50" y="157.20" font-size="5" fill="#444" text-anchor="start" stroke="#444" stroke-width="0.1" textLength="23" lengthAdjust="spacingAndGlyphs" >2106-2316</text>
<g filter="url(#blur1)">
<rect x="343.0" y="190.9" width="8" height="1.8" rx="1" fill="#222" opacity="0.15"/>
<rect x="357.5" y="190.5" width="10" height="2.6" rx="1" fill="#222" opacity="0.75"/>
<rect x="369.0" y="190.5" width="10" height="2.6" rx="1" fill="#222" opacity="0.9"/>
<rect x="380.5" y="190.5" width="10" height="2.6" rx="1" fill="#222" opacity="0.75"/>
<rect x="392.5" y="190.6" width="10" height="2.4" rx="1" fill="#222" opacity="0.5"/>
<rect x="404.0" y="190.7" width="10" height="2.2" rx="1" fill="#222" opacity="0.3"/>
<rect x="415.0" y="190.8" width="10" height="2" rx="1" fill="#222" opacity="0.15"/>
</g>
<line x1="467.00" y1="192.30" x2="472.00" y2="192.30" stroke="#222" stroke-width="1.1" />
<text x="474.00" y="195.60" font-size="9.2" fill="#222" text-anchor="start" stroke="#222" stroke-width="0.16" textLength="21.5" lengthAdjust="spacingAndGlyphs" >KNL1</text>
<text x="496.00" y="191.00" font-size="5" fill="#444" text-anchor="start" stroke="#444" stroke-width="0.1" textLength="23" lengthAdjust="spacingAndGlyphs" >2106-2316</text>
<circle cx="309" cy="195" r="2" fill="none" stroke="#888" stroke-width="1"/>
<rect x="294.2" y="254.8" width="171.4" height="79.39999999999998" fill="#dfdfdf" stroke="#444" stroke-width="1.4"/>
<rect x="300" y="255.8" width="6" height="77.39999999999998" fill="#e8e8e8" opacity="0.3"/>
<rect x="318" y="255.8" width="8" height="77.39999999999998" fill="#d4d4d4" opacity="0.3"/>
<rect x="335" y="255.8" width="10" height="77.39999999999998" fill="#e8e8e8" opacity="0.3"/>
<rect x="352" y="255.8" width="6" height="77.39999999999998" fill="#d4d4d4" opacity="0.3"/>
<rect x="368" y="255.8" width="8" height="77.39999999999998" fill="#e8e8e8" opacity="0.3"/>
<rect x="390" y="255.8" width="10" height="77.39999999999998" fill="#d4d4d4" opacity="0.3"/>
<rect x="410" y="255.8" width="6" height="77.39999999999998" fill="#e8e8e8" opacity="0.3"/>
<rect x="430" y="255.8" width="8" height="77.39999999999998" fill="#d4d4d4" opacity="0.3"/>
<rect x="447" y="255.8" width="10" height="77.39999999999998" fill="#e8e8e8" opacity="0.3"/>
<text x="287.20" y="262.80" font-size="9" fill="#222" text-anchor="end" stroke="#222" stroke-width="0.16" >50</text>
<line x1="288.50" y1="259.60" x2="293.50" y2="259.60" stroke="#222" stroke-width="1" />
<rect x="294.5" y="258.0" width="2.6" height="3.2" fill="#111"/>
<text x="287.20" y="270.90" font-size="9" fill="#222" text-anchor="end" stroke="#222" stroke-width="0.16" >37</text>
<line x1="288.50" y1="267.70" x2="293.50" y2="267.70" stroke="#222" stroke-width="1" />
<text x="287.20" y="284.90" font-size="9" fill="#222" text-anchor="end" stroke="#222" stroke-width="0.16" >25</text>
<line x1="288.50" y1="281.70" x2="293.50" y2="281.70" stroke="#222" stroke-width="1" />
<rect x="294.5" y="280.1" width="2.6" height="3.2" fill="#111"/>
<text x="287.20" y="291.70" font-size="9" fill="#222" text-anchor="end" stroke="#222" stroke-width="0.16" >20</text>
<line x1="288.50" y1="288.50" x2="293.50" y2="288.50" stroke="#222" stroke-width="1" />
<text x="287.20" y="306.10" font-size="9" fill="#222" text-anchor="end" stroke="#222" stroke-width="0.16" >15</text>
<line x1="288.50" y1="302.90" x2="293.50" y2="302.90" stroke="#222" stroke-width="1" />
<text x="287.20" y="322.00" font-size="9" fill="#222" text-anchor="end" stroke="#222" stroke-width="0.16" >10</text>
<line x1="288.50" y1="318.80" x2="293.50" y2="318.80" stroke="#222" stroke-width="1" />
<line x1="303.00" y1="250.00" x2="317.30" y2="250.00" stroke="#c8b89a" stroke-width="2.2" />
<text x="320.60" y="253.30" font-size="9.2" fill="#222" text-anchor="start" stroke="#222" stroke-width="0.16" textLength="21.5" lengthAdjust="spacingAndGlyphs" >NSL1</text>
<text x="342.50" y="248.70" font-size="5" fill="#444" text-anchor="start" stroke="#444" stroke-width="0.1" textLength="17" lengthAdjust="spacingAndGlyphs" >227-281</text>
<g filter="url(#blur1)">
<rect x="369.0" y="316.7" width="10" height="2.2" rx="1" fill="#222" opacity="0.45"/>
<rect x="380.5" y="316.7" width="10" height="2.2" rx="1" fill="#222" opacity="0.55"/>
<rect x="392.5" y="316.7" width="10" height="2.2" rx="1" fill="#222" opacity="0.5"/>
<rect x="404.5" y="316.8" width="10" height="2" rx="1" fill="#222" opacity="0.3"/>
</g>
<line x1="467.00" y1="318.50" x2="472.00" y2="318.50" stroke="#222" stroke-width="1.1" />
<text x="474.00" y="321.80" font-size="9.2" fill="#222" text-anchor="start" stroke="#222" stroke-width="0.16" textLength="21.5" lengthAdjust="spacingAndGlyphs" >NSL1</text>
<text x="496.00" y="317.20" font-size="5" fill="#444" text-anchor="start" stroke="#444" stroke-width="0.1" textLength="18" lengthAdjust="spacingAndGlyphs" >227-281</text>
<rect x="294.2" y="347.7" width="171.4" height="79.0" fill="#dfdfdf" stroke="#444" stroke-width="1.4"/>
<rect x="300" y="348.7" width="6" height="77.0" fill="#e8e8e8" opacity="0.3"/>
<rect x="318" y="348.7" width="8" height="77.0" fill="#d4d4d4" opacity="0.3"/>
<rect x="335" y="348.7" width="10" height="77.0" fill="#e8e8e8" opacity="0.3"/>
<rect x="352" y="348.7" width="6" height="77.0" fill="#d4d4d4" opacity="0.3"/>
<rect x="368" y="348.7" width="8" height="77.0" fill="#e8e8e8" opacity="0.3"/>
<rect x="390" y="348.7" width="10" height="77.0" fill="#d4d4d4" opacity="0.3"/>
<rect x="410" y="348.7" width="6" height="77.0" fill="#e8e8e8" opacity="0.3"/>
<rect x="430" y="348.7" width="8" height="77.0" fill="#d4d4d4" opacity="0.3"/>
<rect x="447" y="348.7" width="10" height="77.0" fill="#e8e8e8" opacity="0.3"/>
<text x="287.20" y="353.20" font-size="9" fill="#222" text-anchor="end" stroke="#222" stroke-width="0.16" >50</text>
<line x1="288.50" y1="350.00" x2="293.50" y2="350.00" stroke="#222" stroke-width="1" />
<rect x="294.5" y="348.4" width="2.6" height="3.2" fill="#111"/>
<text x="287.20" y="362.80" font-size="9" fill="#222" text-anchor="end" stroke="#222" stroke-width="0.16" >37</text>
<line x1="288.50" y1="359.60" x2="293.50" y2="359.60" stroke="#222" stroke-width="1" />
<text x="287.20" y="379.70" font-size="9" fill="#222" text-anchor="end" stroke="#222" stroke-width="0.16" >25</text>
<line x1="288.50" y1="376.50" x2="293.50" y2="376.50" stroke="#222" stroke-width="1" />
<rect x="294.5" y="374.9" width="2.6" height="3.2" fill="#111"/>
<text x="287.20" y="387.00" font-size="9" fill="#222" text-anchor="end" stroke="#222" stroke-width="0.16" >20</text>
<line x1="288.50" y1="383.80" x2="293.50" y2="383.80" stroke="#222" stroke-width="1" />
<text x="287.20" y="404.20" font-size="9" fill="#222" text-anchor="end" stroke="#222" stroke-width="0.16" >15</text>
<line x1="288.50" y1="401.00" x2="293.50" y2="401.00" stroke="#222" stroke-width="1" />
<text x="287.20" y="423.20" font-size="9" fill="#222" text-anchor="end" stroke="#222" stroke-width="0.16" >10</text>
<line x1="288.50" y1="420.00" x2="293.50" y2="420.00" stroke="#222" stroke-width="1" />
<line x1="303.00" y1="342.90" x2="317.30" y2="342.90" stroke="#6cbf45" stroke-width="2.2" />
<text x="320.60" y="346.20" font-size="9.2" fill="#222" text-anchor="start" stroke="#222" stroke-width="0.16" textLength="21.5" lengthAdjust="spacingAndGlyphs" >KNL1</text>
<text x="342.50" y="341.60" font-size="5" fill="#444" text-anchor="start" stroke="#444" stroke-width="0.1" textLength="24" lengthAdjust="spacingAndGlyphs" >2106-2316</text>
<text x="370.00" y="346.20" font-size="9.2" fill="#222" text-anchor="start" stroke="#222" stroke-width="0.16" >+</text>
<text x="379.00" y="346.20" font-size="9.2" fill="#222" text-anchor="start" stroke="#222" stroke-width="0.16" textLength="21" lengthAdjust="spacingAndGlyphs" >NSL1</text>
<text x="400.50" y="341.60" font-size="5" fill="#444" text-anchor="start" stroke="#444" stroke-width="0.1" textLength="18" lengthAdjust="spacingAndGlyphs" >227-281</text>
<g filter="url(#blur1)">
<rect x="320.0" y="378.2" width="10" height="2.6" rx="1" fill="#222" opacity="0.8"/>
<rect x="332.5" y="378.2" width="10" height="2.6" rx="1" fill="#222" opacity="0.85"/>
<rect x="345.0" y="378.3" width="10" height="2.4" rx="1" fill="#222" opacity="0.65"/>
<rect x="357.5" y="378.4" width="10" height="2.2" rx="1" fill="#222" opacity="0.45"/>
<rect x="370.0" y="378.5" width="10" height="2" rx="1" fill="#222" opacity="0.3"/>
<rect x="382.0" y="378.5" width="10" height="2" rx="1" fill="#222" opacity="0.12"/>
<rect x="320.0" y="414.3" width="10" height="2" rx="1" fill="#222" opacity="0.3"/>
<rect x="332.5" y="414.5" width="10" height="2" rx="1" fill="#222" opacity="0.25"/>
<rect x="345.0" y="414.5" width="10" height="2" rx="1" fill="#222" opacity="0.15"/>
<rect x="357.0" y="414.5" width="10" height="2" rx="1" fill="#222" opacity="0.1"/>
<rect x="369.0" y="414.5" width="10" height="2" rx="1" fill="#222" opacity="0.06"/>
</g>
<line x1="467.00" y1="377.50" x2="472.00" y2="377.50" stroke="#222" stroke-width="1.1" />
<text x="474.00" y="380.80" font-size="9.2" fill="#222" text-anchor="start" stroke="#222" stroke-width="0.16" textLength="21.5" lengthAdjust="spacingAndGlyphs" >KNL1</text>
<text x="496.00" y="376.20" font-size="5" fill="#444" text-anchor="start" stroke="#444" stroke-width="0.1" textLength="23" lengthAdjust="spacingAndGlyphs" >2106-2316</text>
<line x1="467.00" y1="413.70" x2="472.00" y2="413.70" stroke="#222" stroke-width="1.1" />
<text x="474.00" y="417.00" font-size="9.2" fill="#222" text-anchor="start" stroke="#222" stroke-width="0.16" textLength="21.5" lengthAdjust="spacingAndGlyphs" >NSL1</text>
<text x="496.00" y="412.40" font-size="5" fill="#444" text-anchor="start" stroke="#444" stroke-width="0.1" textLength="18" lengthAdjust="spacingAndGlyphs" >227-281</text>
<text x="293.60" y="455.80" font-size="22" fill="#111" text-anchor="start" font-weight="bold" >F</text>
<rect x="323.5" y="439.6" width="159.6" height="114.4" fill="#fff" stroke="#333" stroke-width="1.1"/>
<line x1="320.50" y1="452.00" x2="323.50" y2="452.00" stroke="#333" stroke-width="1" />
<text x="318.80" y="455.30" font-size="9.6" fill="#222" text-anchor="end" stroke="#222" stroke-width="0.16" >0</text>
<line x1="321.80" y1="458.00" x2="323.50" y2="458.00" stroke="#333" stroke-width="0.8" />
<line x1="321.80" y1="464.00" x2="323.50" y2="464.00" stroke="#333" stroke-width="0.8" />
<line x1="321.80" y1="470.00" x2="323.50" y2="470.00" stroke="#333" stroke-width="0.8" />
<line x1="320.50" y1="476.00" x2="323.50" y2="476.00" stroke="#333" stroke-width="1" />
<text x="318.80" y="479.30" font-size="9.6" fill="#222" text-anchor="end" stroke="#222" stroke-width="0.16" >-4</text>
<line x1="321.80" y1="482.00" x2="323.50" y2="482.00" stroke="#333" stroke-width="0.8" />
<line x1="321.80" y1="488.00" x2="323.50" y2="488.00" stroke="#333" stroke-width="0.8" />
<line x1="321.80" y1="494.00" x2="323.50" y2="494.00" stroke="#333" stroke-width="0.8" />
<line x1="320.50" y1="500.00" x2="323.50" y2="500.00" stroke="#333" stroke-width="1" />
<text x="318.80" y="503.30" font-size="9.6" fill="#222" text-anchor="end" stroke="#222" stroke-width="0.16" >-8</text>
<line x1="321.80" y1="506.00" x2="323.50" y2="506.00" stroke="#333" stroke-width="0.8" />
<line x1="321.80" y1="512.00" x2="323.50" y2="512.00" stroke="#333" stroke-width="0.8" />
<line x1="321.80" y1="518.00" x2="323.50" y2="518.00" stroke="#333" stroke-width="0.8" />
<line x1="320.50" y1="524.00" x2="323.50" y2="524.00" stroke="#333" stroke-width="1" />
<text x="318.80" y="527.30" font-size="9.6" fill="#222" text-anchor="end" stroke="#222" stroke-width="0.16" >-12</text>
<line x1="321.80" y1="530.00" x2="323.50" y2="530.00" stroke="#333" stroke-width="0.8" />
<line x1="321.80" y1="536.00" x2="323.50" y2="536.00" stroke="#333" stroke-width="0.8" />
<line x1="321.80" y1="542.00" x2="323.50" y2="542.00" stroke="#333" stroke-width="0.8" />
<line x1="320.50" y1="548.00" x2="323.50" y2="548.00" stroke="#333" stroke-width="1" />
<text x="318.80" y="551.30" font-size="9.6" fill="#222" text-anchor="end" stroke="#222" stroke-width="0.16" >-16</text>
<line x1="340.50" y1="554.00" x2="340.50" y2="556.50" stroke="#333" stroke-width="1" />
<text x="340.50" y="568.60" font-size="10" fill="#222" text-anchor="middle" stroke="#222" stroke-width="0.16" >0.0</text>
<line x1="372.74" y1="554.00" x2="372.74" y2="556.50" stroke="#333" stroke-width="1" />
<text x="372.74" y="568.60" font-size="10" fill="#222" text-anchor="middle" stroke="#222" stroke-width="0.16" >0.4</text>
<line x1="404.98" y1="554.00" x2="404.98" y2="556.50" stroke="#333" stroke-width="1" />
<text x="404.98" y="568.60" font-size="10" fill="#222" text-anchor="middle" stroke="#222" stroke-width="0.16" >0.8</text>
<line x1="437.22" y1="554.00" x2="437.22" y2="556.50" stroke="#333" stroke-width="1" />
<text x="437.22" y="568.60" font-size="10" fill="#222" text-anchor="middle" stroke="#222" stroke-width="0.16" >1.2</text>
<line x1="469.46" y1="554.00" x2="469.46" y2="556.50" stroke="#333" stroke-width="1" />
<text x="469.46" y="568.60" font-size="10" fill="#222" text-anchor="middle" stroke="#222" stroke-width="0.16" >1.6</text>
<line x1="356.62" y1="554.00" x2="356.62" y2="555.50" stroke="#333" stroke-width="0.8" />
<line x1="388.86" y1="554.00" x2="388.86" y2="555.50" stroke="#333" stroke-width="0.8" />
<line x1="421.10" y1="554.00" x2="421.10" y2="555.50" stroke="#333" stroke-width="0.8" />
<line x1="453.34" y1="554.00" x2="453.34" y2="555.50" stroke="#333" stroke-width="0.8" />
<text x="401.80" y="579.80" font-size="10.8" fill="#222" text-anchor="middle" stroke="#222" stroke-width="0.16" textLength="58.5" lengthAdjust="spacingAndGlyphs" >Molar Ratio</text>
<text x="298.50" y="505.60" font-size="10" fill="#222" text-anchor="middle" stroke="#222" stroke-width="0.16" textLength="88" lengthAdjust="spacingAndGlyphs" transform="rotate(-90 298.5 505.6)" dy="3.5">kcal/mol of injectant</text>
<path d="M340.50,543.80 L341.14,543.80 L341.79,543.79 L342.43,543.78 L343.08,543.76 L343.72,543.74 L344.37,543.72 L345.01,543.69 L345.66,543.66 L346.30,543.63 L346.95,543.59 L347.59,543.55 L348.24,543.51 L348.88,543.47 L349.53,543.43 L350.17,543.38 L350.82,543.33 L351.46,543.29 L352.11,543.24 L352.75,543.19 L353.40,543.13 L354.04,543.07 L354.69,543.00 L355.33,542.92 L355.98,542.83 L356.62,542.74 L357.26,542.64 L357.91,542.53 L358.55,542.42 L359.20,542.31 L359.84,542.19 L360.49,542.07 L361.13,541.94 L361.78,541.81 L362.42,541.68 L363.07,541.53 L363.71,541.38 L364.36,541.21 L365.00,541.04 L365.65,540.86 L366.29,540.68 L366.94,540.48 L367.58,540.28 L368.23,540.07 L368.87,539.85 L369.52,539.62 L370.16,539.39 L370.81,539.15 L371.45,538.91 L372.10,538.66 L372.74,538.40 L373.38,538.13 L374.03,537.85 L374.67,537.56 L375.32,537.25 L375.96,536.92 L376.61,536.58 L377.25,536.22 L377.90,535.84 L378.54,535.45 L379.19,535.03 L379.83,534.60 L380.48,534.14 L381.12,533.65 L381.77,533.13 L382.41,532.57 L383.06,531.96 L383.70,531.32 L384.35,530.64 L384.99,529.92 L385.64,529.17 L386.28,528.38 L386.93,527.56 L387.57,526.70 L388.22,525.82 L388.86,524.90 L389.50,523.92 L390.15,522.83 L390.79,521.66 L391.44,520.41 L392.08,519.10 L392.73,517.74 L393.37,516.34 L394.02,514.90 L394.66,513.45 L395.31,512.00 L395.95,510.54 L396.60,509.11 L397.24,507.69 L397.89,506.28 L398.53,504.84 L399.18,503.39 L399.82,501.92 L400.47,500.43 L401.11,498.92 L401.76,497.38 L402.40,495.81 L403.05,494.21 L403.69,492.57 L404.34,490.81 L404.98,488.96 L405.62,487.06 L406.27,485.15 L406.91,483.26 L407.56,481.44 L408.20,479.73 L408.85,478.16 L409.49,476.73 L410.14,475.34 L410.78,473.99 L411.43,472.70 L412.07,471.46 L412.72,470.30 L413.36,469.21 L414.01,468.21 L414.65,467.30 L415.30,466.46 L415.94,465.65 L416.59,464.88 L417.23,464.15 L417.88,463.47 L418.52,462.82 L419.17,462.22 L419.81,461.66 L420.46,461.16 L421.10,460.70 L421.74,460.28 L422.39,459.88 L423.03,459.50 L423.68,459.13 L424.32,458.79 L424.97,458.47 L425.61,458.16 L426.26,457.87 L426.90,457.60 L427.55,457.35 L428.19,457.12 L428.84,456.90 L429.48,456.70 L430.13,456.51 L430.77,456.33 L431.42,456.15 L432.06,455.98 L432.71,455.82 L433.35,455.67 L434.00,455.53 L434.64,455.40 L435.29,455.29 L435.93,455.18 L436.58,455.08 L437.22,455.00 L437.86,454.92 L438.51,454.85 L439.15,454.78 L439.80,454.71 L440.44,454.65 L441.09,454.58 L441.73,454.52 L442.38,454.46 L443.02,454.40 L443.67,454.35 L444.31,454.30 L444.96,454.25 L445.60,454.20 L446.25,454.15 L446.89,454.11 L447.54,454.07 L448.18,454.03 L448.83,453.99 L449.47,453.96 L450.12,453.93 L450.76,453.90 L451.41,453.87 L452.05,453.84 L452.70,453.82 L453.34,453.80 L453.98,453.78 L454.63,453.76 L455.27,453.74 L455.92,453.73 L456.56,453.71 L457.21,453.69 L457.85,453.67 L458.50,453.66 L459.14,453.64 L459.79,453.63 L460.43,453.61 L461.08,453.60 L461.72,453.58 L462.37,453.57 L463.01,453.56 L463.66,453.55 L464.30,453.54 L464.95,453.53 L465.59,453.52 L466.24,453.52 L466.88,453.51 L467.53,453.51 L468.17,453.50 L468.82,453.50 L469.46,453.50" fill="none" stroke="#e0524f" stroke-width="1.0" stroke-linejoin="round" />
<rect x="342.4" y="544.4" width="3.4" height="2.2" fill="#111"/>
<rect x="347.3" y="544.4" width="3.4" height="2.2" fill="#111"/>
<rect x="351.6" y="544.1" width="3.4" height="2.2" fill="#111"/>
<rect x="356.5" y="542.9" width="3.4" height="2.2" fill="#111"/>
<rect x="362.7" y="539.5" width="3.4" height="2.2" fill="#111"/>
<rect x="367.3" y="540.4" width="3.4" height="2.2" fill="#111"/>
<rect x="371.6" y="532.7" width="3.4" height="2.2" fill="#111"/>
<rect x="378.1" y="533.4" width="3.4" height="2.2" fill="#111"/>
<rect x="383.3" y="528.1" width="3.4" height="2.2" fill="#111"/>
<rect x="387.9" y="521.4" width="3.4" height="2.2" fill="#111"/>
<rect x="393.5" y="512.7" width="3.4" height="2.2" fill="#111"/>
<rect x="397.1" y="501.9" width="3.4" height="2.2" fill="#111"/>
<rect x="401.8" y="495.2" width="3.4" height="2.2" fill="#111"/>
<rect x="405.8" y="477.9" width="3.4" height="2.2" fill="#111"/>
<rect x="411.0" y="466.6" width="3.4" height="2.2" fill="#111"/>
<rect x="415.0" y="464.1" width="3.4" height="2.2" fill="#111"/>
<rect x="420.2" y="459.8" width="3.4" height="2.2" fill="#111"/>
<rect x="428.5" y="454.3" width="3.4" height="2.2" fill="#111"/>
<rect x="433.5" y="454.3" width="3.4" height="2.2" fill="#111"/>
<rect x="437.8" y="454.9" width="3.4" height="2.2" fill="#111"/>
<rect x="443.3" y="452.1" width="3.4" height="2.2" fill="#111"/>
<rect x="447.9" y="451.8" width="3.4" height="2.2" fill="#111"/>
<rect x="452.5" y="451.8" width="3.4" height="2.2" fill="#111"/>
<rect x="456.8" y="451.2" width="3.4" height="2.2" fill="#111"/>
<rect x="461.8" y="449.1" width="3.4" height="2.2" fill="#111"/>
<text x="329.70" y="454.20" font-size="10.8" fill="#222" text-anchor="start" stroke="#222" stroke-width="0.16" textLength="27.5" lengthAdjust="spacingAndGlyphs" >KNL1</text>
<text x="357.80" y="449.60" font-size="6.8" fill="#333" text-anchor="start" stroke="#333" stroke-width="0.16" textLength="33.5" lengthAdjust="spacingAndGlyphs" >2106-2316</text>
<text x="397.80" y="455.00" font-size="10.5" fill="#222" text-anchor="start" stroke="#222" stroke-width="0.16" >+</text>
<text x="329.70" y="468.50" font-size="10.8" fill="#222" text-anchor="start" stroke="#222" stroke-width="0.16" textLength="27.5" lengthAdjust="spacingAndGlyphs" >NSL1</text>
<text x="357.80" y="463.90" font-size="6.8" fill="#333" text-anchor="start" stroke="#333" stroke-width="0.16" textLength="26" lengthAdjust="spacingAndGlyphs" >227-281</text>
<text x="405.60" y="547.80" font-size="11.5" fill="#222" text-anchor="start" stroke="#222" stroke-width="0.16" >K</text>
<text x="413.00" y="551.00" font-size="8.2" fill="#222" text-anchor="start" stroke="#222" stroke-width="0.16" textLength="6.2" lengthAdjust="spacingAndGlyphs" >D</text>
<text x="422.60" y="547.80" font-size="11.5" fill="#222" text-anchor="start" stroke="#222" stroke-width="0.16" textLength="8.2" lengthAdjust="spacingAndGlyphs" >=</text>
<text x="433.50" y="547.80" font-size="11.5" fill="#222" text-anchor="start" stroke="#222" stroke-width="0.16" textLength="43.3" lengthAdjust="spacingAndGlyphs" >62.5 nM</text>
<text x="-0.80" y="455.90" font-size="23" fill="#111" text-anchor="start" font-weight="bold" >D</text>
<rect x="63.00" y="449" width="13.9" height="13" fill="#9b57d8" stroke="#555" stroke-width="0.8"/>
<rect x="76.90" y="449" width="13.9" height="13" fill="#aea4d6" stroke="#555" stroke-width="0.8"/>
<rect x="90.80" y="449" width="13.9" height="13" fill="#ebd3ea" stroke="#555" stroke-width="0.8"/>
<rect x="104.70" y="449" width="13.9" height="13" fill="#ffffff" stroke="#555" stroke-width="0.8"/>
<text x="65.00" y="446.00" font-size="9" fill="#222" text-anchor="middle" stroke="#222" stroke-width="0.16" >100</text>
<text x="90.80" y="446.00" font-size="9" fill="#222" text-anchor="middle" stroke="#222" stroke-width="0.16" >50</text>
<text x="117.80" y="446.00" font-size="9" fill="#222" text-anchor="middle" stroke="#222" stroke-width="0.16" >0%</text>
<text x="123.00" y="454.00" font-size="8.6" fill="#222" text-anchor="start" stroke="#222" stroke-width="0.16" textLength="37.5" lengthAdjust="spacingAndGlyphs" >sequence</text>
<text x="142.00" y="462.50" font-size="8.6" fill="#222" text-anchor="middle" stroke="#222" stroke-width="0.16" textLength="28.5" lengthAdjust="spacingAndGlyphs" >identity</text>
<rect x="102.99" y="486.40" width="7.64" height="11.54" fill="#ebd3ea"/>
<rect x="110.38" y="486.40" width="7.64" height="11.54" fill="#9b57d8"/>
<rect x="117.77" y="486.40" width="7.64" height="11.54" fill="#aea4d6"/>
<rect x="125.16" y="486.40" width="7.64" height="11.54" fill="#aea4d6"/>
<rect x="132.55" y="486.40" width="7.64" height="11.54" fill="#aea4d6"/>
<rect x="139.94" y="486.40" width="7.64" height="11.54" fill="#aea4d6"/>
<rect x="147.33" y="486.40" width="7.64" height="11.54" fill="#9b57d8"/>
<rect x="162.11" y="486.40" width="7.64" height="11.54" fill="#ebd3ea"/>
<rect x="169.50" y="486.40" width="7.64" height="11.54" fill="#aea4d6"/>
<rect x="176.89" y="486.40" width="7.64" height="11.54" fill="#9b57d8"/>
<rect x="206.45" y="486.40" width="7.64" height="11.54" fill="#aea4d6"/>
<rect x="213.84" y="486.40" width="7.64" height="11.54" fill="#ebd3ea"/>
<rect x="221.23" y="486.40" width="7.64" height="11.54" fill="#ebd3ea"/>
<rect x="236.01" y="486.40" width="7.64" height="11.54" fill="#ebd3ea"/>
<rect x="243.40" y="486.40" width="7.64" height="11.54" fill="#aea4d6"/>
<rect x="250.79" y="486.40" width="7.64" height="11.54" fill="#9b57d8"/>
<rect x="258.18" y="486.40" width="7.64" height="11.54" fill="#aea4d6"/>
<rect x="265.57" y="486.40" width="7.64" height="11.54" fill="#aea4d6"/>
<rect x="110.38" y="497.69" width="7.64" height="11.54" fill="#9b57d8"/>
<rect x="117.77" y="497.69" width="7.64" height="11.54" fill="#aea4d6"/>
<rect x="125.16" y="497.69" width="7.64" height="11.54" fill="#aea4d6"/>
<rect x="132.55" y="497.69" width="7.64" height="11.54" fill="#aea4d6"/>
<rect x="139.94" y="497.69" width="7.64" height="11.54" fill="#aea4d6"/>
<rect x="147.33" y="497.69" width="7.64" height="11.54" fill="#9b57d8"/>
<rect x="162.11" y="497.69" width="7.64" height="11.54" fill="#ebd3ea"/>
<rect x="169.50" y="497.69" width="7.64" height="11.54" fill="#aea4d6"/>
<rect x="176.89" y="497.69" width="7.64" height="11.54" fill="#9b57d8"/>
<rect x="206.45" y="497.69" width="7.64" height="11.54" fill="#aea4d6"/>
<rect x="213.84" y="497.69" width="7.64" height="11.54" fill="#ebd3ea"/>
<rect x="221.23" y="497.69" width="7.64" height="11.54" fill="#ebd3ea"/>
<rect x="236.01" y="497.69" width="7.64" height="11.54" fill="#ebd3ea"/>
<rect x="243.40" y="497.69" width="7.64" height="11.54" fill="#aea4d6"/>
<rect x="250.79" y="497.69" width="7.64" height="11.54" fill="#9b57d8"/>
<rect x="258.18" y="497.69" width="7.64" height="11.54" fill="#aea4d6"/>
<rect x="265.57" y="497.69" width="7.64" height="11.54" fill="#aea4d6"/>
<rect x="110.38" y="508.98" width="7.64" height="11.54" fill="#9b57d8"/>
<rect x="117.77" y="508.98" width="7.64" height="11.54" fill="#aea4d6"/>
<rect x="125.16" y="508.98" width="7.64" height="11.54" fill="#aea4d6"/>
<rect x="132.55" y="508.98" width="7.64" height="11.54" fill="#aea4d6"/>
<rect x="139.94" y="508.98" width="7.64" height="11.54" fill="#aea4d6"/>
<rect x="147.33" y="508.98" width="7.64" height="11.54" fill="#9b57d8"/>
<rect x="162.11" y="508.98" width="7.64" height="11.54" fill="#ebd3ea"/>
<rect x="169.50" y="508.98" width="7.64" height="11.54" fill="#aea4d6"/>
<rect x="176.89" y="508.98" width="7.64" height="11.54" fill="#9b57d8"/>
<rect x="206.45" y="508.98" width="7.64" height="11.54" fill="#aea4d6"/>
<rect x="213.84" y="508.98" width="7.64" height="11.54" fill="#ebd3ea"/>
<rect x="221.23" y="508.98" width="7.64" height="11.54" fill="#ebd3ea"/>
<rect x="236.01" y="508.98" width="7.64" height="11.54" fill="#ebd3ea"/>
<rect x="243.40" y="508.98" width="7.64" height="11.54" fill="#aea4d6"/>
<rect x="250.79" y="508.98" width="7.64" height="11.54" fill="#9b57d8"/>
<rect x="258.18" y="508.98" width="7.64" height="11.54" fill="#aea4d6"/>
<rect x="265.57" y="508.98" width="7.64" height="11.54" fill="#aea4d6"/>
<rect x="102.99" y="520.27" width="7.64" height="11.54" fill="#ebd3ea"/>
<rect x="110.38" y="520.27" width="7.64" height="11.54" fill="#9b57d8"/>
<rect x="117.77" y="520.27" width="7.64" height="11.54" fill="#aea4d6"/>
<rect x="125.16" y="520.27" width="7.64" height="11.54" fill="#aea4d6"/>
<rect x="132.55" y="520.27" width="7.64" height="11.54" fill="#aea4d6"/>
<rect x="139.94" y="520.27" width="7.64" height="11.54" fill="#aea4d6"/>
<rect x="147.33" y="520.27" width="7.64" height="11.54" fill="#9b57d8"/>
<rect x="162.11" y="520.27" width="7.64" height="11.54" fill="#ebd3ea"/>
<rect x="176.89" y="520.27" width="7.64" height="11.54" fill="#9b57d8"/>
<rect x="206.45" y="520.27" width="7.64" height="11.54" fill="#aea4d6"/>
<rect x="213.84" y="520.27" width="7.64" height="11.54" fill="#ebd3ea"/>
<rect x="221.23" y="520.27" width="7.64" height="11.54" fill="#ebd3ea"/>
<rect x="243.40" y="520.27" width="7.64" height="11.54" fill="#aea4d6"/>
<rect x="250.79" y="520.27" width="7.64" height="11.54" fill="#9b57d8"/>
<rect x="258.18" y="520.27" width="7.64" height="11.54" fill="#aea4d6"/>
<rect x="265.57" y="520.27" width="7.64" height="11.54" fill="#aea4d6"/>
<rect x="95.60" y="531.56" width="7.64" height="11.54" fill="#ebd3ea"/>
<rect x="110.38" y="531.56" width="7.64" height="11.54" fill="#9b57d8"/>
<rect x="117.77" y="531.56" width="7.64" height="11.54" fill="#aea4d6"/>
<rect x="125.16" y="531.56" width="7.64" height="11.54" fill="#aea4d6"/>
<rect x="132.55" y="531.56" width="7.64" height="11.54" fill="#aea4d6"/>
<rect x="139.94" y="531.56" width="7.64" height="11.54" fill="#aea4d6"/>
<rect x="147.33" y="531.56" width="7.64" height="11.54" fill="#9b57d8"/>
<rect x="169.50" y="531.56" width="7.64" height="11.54" fill="#aea4d6"/>
<rect x="176.89" y="531.56" width="7.64" height="11.54" fill="#9b57d8"/>
<rect x="206.45" y="531.56" width="7.64" height="11.54" fill="#aea4d6"/>
<rect x="213.84" y="531.56" width="7.64" height="11.54" fill="#ebd3ea"/>
<rect x="221.23" y="531.56" width="7.64" height="11.54" fill="#ebd3ea"/>
<rect x="236.01" y="531.56" width="7.64" height="11.54" fill="#ebd3ea"/>
<rect x="250.79" y="531.56" width="7.64" height="11.54" fill="#9b57d8"/>
<rect x="265.57" y="531.56" width="7.64" height="11.54" fill="#aea4d6"/>
<rect x="95.60" y="542.85" width="7.64" height="11.54" fill="#ebd3ea"/>
<rect x="102.99" y="542.85" width="7.64" height="11.54" fill="#ebd3ea"/>
<rect x="110.38" y="542.85" width="7.64" height="11.54" fill="#9b57d8"/>
<rect x="117.77" y="542.85" width="7.64" height="11.54" fill="#aea4d6"/>
<rect x="125.16" y="542.85" width="7.64" height="11.54" fill="#aea4d6"/>
<rect x="132.55" y="542.85" width="7.64" height="11.54" fill="#aea4d6"/>
<rect x="147.33" y="542.85" width="7.64" height="11.54" fill="#9b57d8"/>
<rect x="169.50" y="542.85" width="7.64" height="11.54" fill="#aea4d6"/>
<rect x="176.89" y="542.85" width="7.64" height="11.54" fill="#9b57d8"/>
<rect x="206.45" y="542.85" width="7.64" height="11.54" fill="#aea4d6"/>
<rect x="243.40" y="542.85" width="7.64" height="11.54" fill="#aea4d6"/>
<rect x="250.79" y="542.85" width="7.64" height="11.54" fill="#9b57d8"/>
<rect x="258.18" y="542.85" width="7.64" height="11.54" fill="#aea4d6"/>
<rect x="265.57" y="542.85" width="7.64" height="11.54" fill="#aea4d6"/>
<rect x="95.60" y="554.14" width="7.64" height="11.54" fill="#ebd3ea"/>
<rect x="102.99" y="554.14" width="7.64" height="11.54" fill="#ebd3ea"/>
<rect x="110.38" y="554.14" width="7.64" height="11.54" fill="#9b57d8"/>
<rect x="117.77" y="554.14" width="7.64" height="11.54" fill="#aea4d6"/>
<rect x="125.16" y="554.14" width="7.64" height="11.54" fill="#aea4d6"/>
<rect x="132.55" y="554.14" width="7.64" height="11.54" fill="#aea4d6"/>
<rect x="147.33" y="554.14" width="7.64" height="11.54" fill="#9b57d8"/>
<rect x="169.50" y="554.14" width="7.64" height="11.54" fill="#aea4d6"/>
<rect x="176.89" y="554.14" width="7.64" height="11.54" fill="#9b57d8"/>
<rect x="206.45" y="554.14" width="7.64" height="11.54" fill="#aea4d6"/>
<rect x="243.40" y="554.14" width="7.64" height="11.54" fill="#aea4d6"/>
<rect x="250.79" y="554.14" width="7.64" height="11.54" fill="#9b57d8"/>
<rect x="258.18" y="554.14" width="7.64" height="11.54" fill="#aea4d6"/>
<rect x="265.57" y="554.14" width="7.64" height="11.54" fill="#aea4d6"/>
<rect x="95.60" y="565.43" width="7.64" height="11.54" fill="#ebd3ea"/>
<rect x="102.99" y="565.43" width="7.64" height="11.54" fill="#ebd3ea"/>
<rect x="110.38" y="565.43" width="7.64" height="11.54" fill="#9b57d8"/>
<rect x="132.55" y="565.43" width="7.64" height="11.54" fill="#aea4d6"/>
<rect x="139.94" y="565.43" width="7.64" height="11.54" fill="#aea4d6"/>
<rect x="147.33" y="565.43" width="7.64" height="11.54" fill="#9b57d8"/>
<rect x="162.11" y="565.43" width="7.64" height="11.54" fill="#ebd3ea"/>
<rect x="169.50" y="565.43" width="7.64" height="11.54" fill="#aea4d6"/>
<rect x="176.89" y="565.43" width="7.64" height="11.54" fill="#9b57d8"/>
<rect x="250.79" y="565.43" width="7.64" height="11.54" fill="#9b57d8"/>
<rect x="258.18" y="565.43" width="7.64" height="11.54" fill="#aea4d6"/>
<rect x="95.60" y="576.72" width="7.64" height="11.54" fill="#ebd3ea"/>
<rect x="102.99" y="576.72" width="7.64" height="11.54" fill="#ebd3ea"/>
<rect x="110.38" y="576.72" width="7.64" height="11.54" fill="#9b57d8"/>
<rect x="139.94" y="576.72" width="7.64" height="11.54" fill="#aea4d6"/>
<rect x="147.33" y="576.72" width="7.64" height="11.54" fill="#9b57d8"/>
<rect x="176.89" y="576.72" width="7.64" height="11.54" fill="#9b57d8"/>
<rect x="236.01" y="576.72" width="7.64" height="11.54" fill="#ebd3ea"/>
<rect x="243.40" y="576.72" width="7.64" height="11.54" fill="#aea4d6"/>
<rect x="250.79" y="576.72" width="7.64" height="11.54" fill="#9b57d8"/>
<rect x="258.18" y="576.72" width="7.64" height="11.54" fill="#aea4d6"/>
<text x="99.29 106.68 114.07 121.46 128.85 136.24 143.63 151.02 158.41 165.80 173.19 180.58 187.97 195.36 202.75 210.14 217.53 224.92 232.31 239.70 247.09 254.48 261.87 269.26" y="495.84" font-size="11.6" font-family='"Liberation Mono", monospace' fill="#1a1a1a" stroke="#1a1a1a" stroke-width="0.05" text-anchor="middle">GEGFSQVLRMQPVIHLQRIHQEVF</text>
<text x="99.29 106.68 114.07 121.46 128.85 136.24 143.63 151.02 158.41 165.80 173.19 180.58 187.97 195.36 202.75 210.14 217.53 224.92 232.31 239.70 247.09 254.48 261.87 269.26" y="507.13" font-size="11.6" font-family='"Liberation Mono", monospace' fill="#1a1a1a" stroke="#1a1a1a" stroke-width="0.05" text-anchor="middle">GDGFSQVLKMQPVIQLQRVHQEVF</text>
<text x="99.29 106.68 114.07 121.46 128.85 136.24 143.63 151.02 158.41 165.80 173.19 180.58 187.97 195.36 202.75 210.14 217.53 224.92 232.31 239.70 247.09 254.48 261.87 269.26" y="518.42" font-size="11.6" font-family='"Liberation Mono", monospace' fill="#1a1a1a" stroke="#1a1a1a" stroke-width="0.05" text-anchor="middle">GDGFSQVLKMQPIIQLQRVHQEVF</text>
<text x="99.29 106.68 114.07 121.46 128.85 136.24 143.63 151.02 158.41 165.80 173.19 180.58 187.97 195.36 202.75 210.14 217.53 224.92 232.31 239.70 247.09 254.48 261.87 269.26" y="529.71" font-size="11.6" font-family='"Liberation Mono", monospace' fill="#1a1a1a" stroke="#1a1a1a" stroke-width="0.05" text-anchor="middle">GEGFSQVLKMRPVIQLQRINQEVF</text>
<text x="99.29 106.68 114.07 121.46 128.85 136.24 143.63 151.02 158.41 165.80 173.19 180.58 187.97 195.36 202.75 210.14 217.53 224.92 232.31 239.70 247.09 254.48 261.87 269.26" y="541.00" font-size="11.6" font-family='"Liberation Mono", monospace' fill="#1a1a1a" stroke="#1a1a1a" stroke-width="0.05" text-anchor="middle">ADGFSQVLTLQPVLELQRLHKEIF</text>
<text x="99.29 106.68 114.07 121.46 128.85 136.24 143.63 151.02 158.41 165.80 173.19 180.58 187.97 195.36 202.75 210.14 217.53 224.92 232.31 239.70 247.09 254.48 261.87 269.26" y="552.29" font-size="11.6" font-family='"Liberation Mono", monospace' fill="#1a1a1a" stroke="#1a1a1a" stroke-width="0.05" text-anchor="middle">AEGFSQALTLQPTLELCKLRQEVF</text>
<text x="99.29 106.68 114.07 121.46 128.85 136.24 143.63 151.02 158.41 165.80 173.19 180.58 187.97 195.36 202.75 210.14 217.53 224.92 232.31 239.70 247.09 254.48 261.87 269.26" y="563.58" font-size="11.6" font-family='"Liberation Mono", monospace' fill="#1a1a1a" stroke="#1a1a1a" stroke-width="0.05" text-anchor="middle">AEGFSQALTWQPTLELCKLRQEVF</text>
<text x="99.29 106.68 114.07 121.46 128.85 136.24 143.63 151.02 158.41 165.80 173.19 180.58 187.97 195.36 202.75 210.14 217.53 224.92 232.31 239.70 247.09 254.48 261.87 269.26" y="574.87" font-size="11.6" font-family='"Liberation Mono", monospace' fill="#1a1a1a" stroke="#1a1a1a" stroke-width="0.05" text-anchor="middle">AEGLHQVLVMQPSAESLDIYREVL</text>
<text x="99.29 106.68 114.07 121.46 128.85 136.24 143.63 151.02 158.41 165.80 173.19 180.58 187.97 195.36 202.75 210.14 217.53 224.92 232.31 239.70 247.09 254.48 261.87 269.26" y="586.16" font-size="11.6" font-family='"Liberation Mono", monospace' fill="#1a1a1a" stroke="#1a1a1a" stroke-width="0.05" text-anchor="middle">AEGLCDVLTTKPSPTTLEIHQEVL</text>
<rect x="1.70" y="611.20" width="7.64" height="11.53" fill="#ebd3ea"/>
<rect x="16.47" y="611.20" width="7.64" height="11.53" fill="#ebd3ea"/>
<rect x="38.63" y="611.20" width="7.64" height="11.53" fill="#aea4d6"/>
<rect x="53.41" y="611.20" width="7.64" height="11.53" fill="#ebd3ea"/>
<rect x="68.18" y="611.20" width="7.64" height="11.53" fill="#ebd3ea"/>
<rect x="97.73" y="611.20" width="7.64" height="11.53" fill="#ebd3ea"/>
<rect x="127.28" y="611.20" width="7.64" height="11.53" fill="#ebd3ea"/>
<rect x="134.67" y="611.20" width="7.64" height="11.53" fill="#aea4d6"/>
<rect x="142.05" y="611.20" width="7.64" height="11.53" fill="#ebd3ea"/>
<rect x="149.44" y="611.20" width="7.64" height="11.53" fill="#aea4d6"/>
<rect x="156.83" y="611.20" width="7.64" height="11.53" fill="#9b57d8"/>
<rect x="164.21" y="611.20" width="7.64" height="11.53" fill="#ebd3ea"/>
<rect x="171.60" y="611.20" width="7.64" height="11.53" fill="#ebd3ea"/>
<rect x="178.99" y="611.20" width="7.64" height="11.53" fill="#ebd3ea"/>
<rect x="201.15" y="611.20" width="7.64" height="11.53" fill="#ebd3ea"/>
<rect x="252.86" y="611.20" width="7.64" height="11.53" fill="#ebd3ea"/>
<rect x="260.24" y="611.20" width="7.64" height="11.53" fill="#aea4d6"/>
<rect x="267.63" y="611.20" width="7.64" height="11.53" fill="#9b57d8"/>
<rect x="275.02" y="611.20" width="7.64" height="11.53" fill="#ebd3ea"/>
<rect x="304.57" y="611.20" width="7.64" height="11.53" fill="#aea4d6"/>
<rect x="319.34" y="611.20" width="7.64" height="11.53" fill="#aea4d6"/>
<rect x="326.73" y="611.20" width="7.64" height="11.53" fill="#ebd3ea"/>
<rect x="334.11" y="611.20" width="7.64" height="11.53" fill="#aea4d6"/>
<rect x="341.50" y="611.20" width="7.64" height="11.53" fill="#ebd3ea"/>
<rect x="356.28" y="611.20" width="7.64" height="11.53" fill="#aea4d6"/>
<rect x="363.66" y="611.20" width="7.64" height="11.53" fill="#aea4d6"/>
<rect x="371.05" y="611.20" width="7.64" height="11.53" fill="#ebd3ea"/>
<rect x="378.44" y="611.20" width="7.64" height="11.53" fill="#ebd3ea"/>
<rect x="393.21" y="611.20" width="7.64" height="11.53" fill="#ebd3ea"/>
<rect x="407.98" y="611.20" width="7.64" height="11.53" fill="#aea4d6"/>
<rect x="415.37" y="611.20" width="7.64" height="11.53" fill="#ebd3ea"/>
<rect x="422.76" y="611.20" width="7.64" height="11.53" fill="#aea4d6"/>
<rect x="430.15" y="611.20" width="7.64" height="11.53" fill="#ebd3ea"/>
<rect x="437.53" y="611.20" width="7.64" height="11.53" fill="#ebd3ea"/>
<rect x="1.70" y="622.48" width="7.64" height="11.53" fill="#ebd3ea"/>
<rect x="16.47" y="622.48" width="7.64" height="11.53" fill="#ebd3ea"/>
<rect x="38.63" y="622.48" width="7.64" height="11.53" fill="#aea4d6"/>
<rect x="53.41" y="622.48" width="7.64" height="11.53" fill="#ebd3ea"/>
<rect x="68.18" y="622.48" width="7.64" height="11.53" fill="#ebd3ea"/>
<rect x="97.73" y="622.48" width="7.64" height="11.53" fill="#ebd3ea"/>
<rect x="127.28" y="622.48" width="7.64" height="11.53" fill="#ebd3ea"/>
<rect x="134.67" y="622.48" width="7.64" height="11.53" fill="#aea4d6"/>
<rect x="142.05" y="622.48" width="7.64" height="11.53" fill="#ebd3ea"/>
<rect x="149.44" y="622.48" width="7.64" height="11.53" fill="#aea4d6"/>
<rect x="156.83" y="622.48" width="7.64" height="11.53" fill="#9b57d8"/>
<rect x="164.21" y="622.48" width="7.64" height="11.53" fill="#ebd3ea"/>
<rect x="171.60" y="622.48" width="7.64" height="11.53" fill="#ebd3ea"/>
<rect x="178.99" y="622.48" width="7.64" height="11.53" fill="#ebd3ea"/>
<rect x="201.15" y="622.48" width="7.64" height="11.53" fill="#ebd3ea"/>
<rect x="252.86" y="622.48" width="7.64" height="11.53" fill="#ebd3ea"/>
<rect x="260.24" y="622.48" width="7.64" height="11.53" fill="#aea4d6"/>
<rect x="267.63" y="622.48" width="7.64" height="11.53" fill="#9b57d8"/>
<rect x="275.02" y="622.48" width="7.64" height="11.53" fill="#ebd3ea"/>
<rect x="304.57" y="622.48" width="7.64" height="11.53" fill="#aea4d6"/>
<rect x="319.34" y="622.48" width="7.64" height="11.53" fill="#aea4d6"/>
<rect x="326.73" y="622.48" width="7.64" height="11.53" fill="#ebd3ea"/>
<rect x="334.11" y="622.48" width="7.64" height="11.53" fill="#aea4d6"/>
<rect x="341.50" y="622.48" width="7.64" height="11.53" fill="#ebd3ea"/>
<rect x="356.28" y="622.48" width="7.64" height="11.53" fill="#aea4d6"/>
<rect x="363.66" y="622.48" width="7.64" height="11.53" fill="#aea4d6"/>
<rect x="371.05" y="622.48" width="7.64" height="11.53" fill="#ebd3ea"/>
<rect x="378.44" y="622.48" width="7.64" height="11.53" fill="#ebd3ea"/>
<rect x="393.21" y="622.48" width="7.64" height="11.53" fill="#ebd3ea"/>
<rect x="407.98" y="622.48" width="7.64" height="11.53" fill="#aea4d6"/>
<rect x="415.37" y="622.48" width="7.64" height="11.53" fill="#ebd3ea"/>
<rect x="422.76" y="622.48" width="7.64" height="11.53" fill="#aea4d6"/>
<rect x="430.15" y="622.48" width="7.64" height="11.53" fill="#ebd3ea"/>
<rect x="437.53" y="622.48" width="7.64" height="11.53" fill="#ebd3ea"/>
<rect x="1.70" y="633.76" width="7.64" height="11.53" fill="#ebd3ea"/>
<rect x="16.47" y="633.76" width="7.64" height="11.53" fill="#ebd3ea"/>
<rect x="38.63" y="633.76" width="7.64" height="11.53" fill="#aea4d6"/>
<rect x="53.41" y="633.76" width="7.64" height="11.53" fill="#ebd3ea"/>
<rect x="68.18" y="633.76" width="7.64" height="11.53" fill="#ebd3ea"/>
<rect x="97.73" y="633.76" width="7.64" height="11.53" fill="#ebd3ea"/>
<rect x="127.28" y="633.76" width="7.64" height="11.53" fill="#ebd3ea"/>
<rect x="134.67" y="633.76" width="7.64" height="11.53" fill="#aea4d6"/>
<rect x="142.05" y="633.76" width="7.64" height="11.53" fill="#ebd3ea"/>
<rect x="149.44" y="633.76" width="7.64" height="11.53" fill="#aea4d6"/>
<rect x="156.83" y="633.76" width="7.64" height="11.53" fill="#9b57d8"/>
<rect x="171.60" y="633.76" width="7.64" height="11.53" fill="#ebd3ea"/>
<rect x="178.99" y="633.76" width="7.64" height="11.53" fill="#ebd3ea"/>
<rect x="201.15" y="633.76" width="7.64" height="11.53" fill="#ebd3ea"/>
<rect x="252.86" y="633.76" width="7.64" height="11.53" fill="#ebd3ea"/>
<rect x="267.63" y="633.76" width="7.64" height="11.53" fill="#9b57d8"/>
<rect x="275.02" y="633.76" width="7.64" height="11.53" fill="#ebd3ea"/>
<rect x="304.57" y="633.76" width="7.64" height="11.53" fill="#aea4d6"/>
<rect x="319.34" y="633.76" width="7.64" height="11.53" fill="#aea4d6"/>
<rect x="326.73" y="633.76" width="7.64" height="11.53" fill="#ebd3ea"/>
<rect x="334.11" y="633.76" width="7.64" height="11.53" fill="#aea4d6"/>
<rect x="341.50" y="633.76" width="7.64" height="11.53" fill="#ebd3ea"/>
<rect x="356.28" y="633.76" width="7.64" height="11.53" fill="#aea4d6"/>
<rect x="363.66" y="633.76" width="7.64" height="11.53" fill="#aea4d6"/>
<rect x="371.05" y="633.76" width="7.64" height="11.53" fill="#ebd3ea"/>
<rect x="378.44" y="633.76" width="7.64" height="11.53" fill="#ebd3ea"/>
<rect x="393.21" y="633.76" width="7.64" height="11.53" fill="#ebd3ea"/>
<rect x="407.98" y="633.76" width="7.64" height="11.53" fill="#aea4d6"/>
<rect x="415.37" y="633.76" width="7.64" height="11.53" fill="#ebd3ea"/>
<rect x="422.76" y="633.76" width="7.64" height="11.53" fill="#aea4d6"/>
<rect x="430.15" y="633.76" width="7.64" height="11.53" fill="#ebd3ea"/>
<rect x="437.53" y="633.76" width="7.64" height="11.53" fill="#ebd3ea"/>
<rect x="1.70" y="645.04" width="7.64" height="11.53" fill="#ebd3ea"/>
<rect x="38.63" y="645.04" width="7.64" height="11.53" fill="#aea4d6"/>
<rect x="53.41" y="645.04" width="7.64" height="11.53" fill="#ebd3ea"/>
<rect x="68.18" y="645.04" width="7.64" height="11.53" fill="#ebd3ea"/>
<rect x="134.67" y="645.04" width="7.64" height="11.53" fill="#aea4d6"/>
<rect x="142.05" y="645.04" width="7.64" height="11.53" fill="#ebd3ea"/>
<rect x="149.44" y="645.04" width="7.64" height="11.53" fill="#aea4d6"/>
<rect x="156.83" y="645.04" width="7.64" height="11.53" fill="#9b57d8"/>
<rect x="171.60" y="645.04" width="7.64" height="11.53" fill="#ebd3ea"/>
<rect x="178.99" y="645.04" width="7.64" height="11.53" fill="#ebd3ea"/>
<rect x="201.15" y="645.04" width="7.64" height="11.53" fill="#ebd3ea"/>
<rect x="252.86" y="645.04" width="7.64" height="11.53" fill="#ebd3ea"/>
<rect x="260.24" y="645.04" width="7.64" height="11.53" fill="#aea4d6"/>
<rect x="267.63" y="645.04" width="7.64" height="11.53" fill="#9b57d8"/>
<rect x="275.02" y="645.04" width="7.64" height="11.53" fill="#ebd3ea"/>
<rect x="304.57" y="645.04" width="7.64" height="11.53" fill="#aea4d6"/>
<rect x="326.73" y="645.04" width="7.64" height="11.53" fill="#ebd3ea"/>
<rect x="334.11" y="645.04" width="7.64" height="11.53" fill="#aea4d6"/>
<rect x="341.50" y="645.04" width="7.64" height="11.53" fill="#ebd3ea"/>
<rect x="356.28" y="645.04" width="7.64" height="11.53" fill="#aea4d6"/>
<rect x="363.66" y="645.04" width="7.64" height="11.53" fill="#aea4d6"/>
<rect x="371.05" y="645.04" width="7.64" height="11.53" fill="#ebd3ea"/>
<rect x="378.44" y="645.04" width="7.64" height="11.53" fill="#ebd3ea"/>
<rect x="407.98" y="645.04" width="7.64" height="11.53" fill="#aea4d6"/>
<rect x="415.37" y="645.04" width="7.64" height="11.53" fill="#ebd3ea"/>
<rect x="422.76" y="645.04" width="7.64" height="11.53" fill="#aea4d6"/>
<rect x="430.15" y="645.04" width="7.64" height="11.53" fill="#ebd3ea"/>
<rect x="1.70" y="656.32" width="7.64" height="11.53" fill="#ebd3ea"/>
<rect x="38.63" y="656.32" width="7.64" height="11.53" fill="#aea4d6"/>
<rect x="68.18" y="656.32" width="7.64" height="11.53" fill="#ebd3ea"/>
<rect x="97.73" y="656.32" width="7.64" height="11.53" fill="#ebd3ea"/>
<rect x="127.28" y="656.32" width="7.64" height="11.53" fill="#ebd3ea"/>
<rect x="134.67" y="656.32" width="7.64" height="11.53" fill="#aea4d6"/>
<rect x="142.05" y="656.32" width="7.64" height="11.53" fill="#ebd3ea"/>
<rect x="149.44" y="656.32" width="7.64" height="11.53" fill="#aea4d6"/>
<rect x="156.83" y="656.32" width="7.64" height="11.53" fill="#9b57d8"/>
<rect x="164.21" y="656.32" width="7.64" height="11.53" fill="#ebd3ea"/>
<rect x="171.60" y="656.32" width="7.64" height="11.53" fill="#ebd3ea"/>
<rect x="178.99" y="656.32" width="7.64" height="11.53" fill="#ebd3ea"/>
<rect x="201.15" y="656.32" width="7.64" height="11.53" fill="#ebd3ea"/>
<rect x="252.86" y="656.32" width="7.64" height="11.53" fill="#ebd3ea"/>
<rect x="260.24" y="656.32" width="7.64" height="11.53" fill="#aea4d6"/>
<rect x="267.63" y="656.32" width="7.64" height="11.53" fill="#9b57d8"/>
<rect x="319.34" y="656.32" width="7.64" height="11.53" fill="#aea4d6"/>
<rect x="326.73" y="656.32" width="7.64" height="11.53" fill="#ebd3ea"/>
<rect x="334.11" y="656.32" width="7.64" height="11.53" fill="#aea4d6"/>
<rect x="341.50" y="656.32" width="7.64" height="11.53" fill="#ebd3ea"/>
<rect x="356.28" y="656.32" width="7.64" height="11.53" fill="#aea4d6"/>
<rect x="393.21" y="656.32" width="7.64" height="11.53" fill="#ebd3ea"/>
<rect x="407.98" y="656.32" width="7.64" height="11.53" fill="#aea4d6"/>
<rect x="415.37" y="656.32" width="7.64" height="11.53" fill="#ebd3ea"/>
<rect x="422.76" y="656.32" width="7.64" height="11.53" fill="#aea4d6"/>
<rect x="437.53" y="656.32" width="7.64" height="11.53" fill="#ebd3ea"/>
<rect x="1.70" y="667.60" width="7.64" height="11.53" fill="#ebd3ea"/>
<rect x="16.47" y="667.60" width="7.64" height="11.53" fill="#ebd3ea"/>
<rect x="38.63" y="667.60" width="7.64" height="11.53" fill="#aea4d6"/>
<rect x="134.67" y="667.60" width="7.64" height="11.53" fill="#aea4d6"/>
<rect x="149.44" y="667.60" width="7.64" height="11.53" fill="#aea4d6"/>
<rect x="156.83" y="667.60" width="7.64" height="11.53" fill="#9b57d8"/>
<rect x="164.21" y="667.60" width="7.64" height="11.53" fill="#ebd3ea"/>
<rect x="178.99" y="667.60" width="7.64" height="11.53" fill="#ebd3ea"/>
<rect x="252.86" y="667.60" width="7.64" height="11.53" fill="#ebd3ea"/>
<rect x="260.24" y="667.60" width="7.64" height="11.53" fill="#aea4d6"/>
<rect x="267.63" y="667.60" width="7.64" height="11.53" fill="#9b57d8"/>
<rect x="304.57" y="667.60" width="7.64" height="11.53" fill="#aea4d6"/>
<rect x="319.34" y="667.60" width="7.64" height="11.53" fill="#aea4d6"/>
<rect x="334.11" y="667.60" width="7.64" height="11.53" fill="#aea4d6"/>
<rect x="356.28" y="667.60" width="7.64" height="11.53" fill="#aea4d6"/>
<rect x="363.66" y="667.60" width="7.64" height="11.53" fill="#aea4d6"/>
<rect x="371.05" y="667.60" width="7.64" height="11.53" fill="#ebd3ea"/>
<rect x="378.44" y="667.60" width="7.64" height="11.53" fill="#ebd3ea"/>
<rect x="407.98" y="667.60" width="7.64" height="11.53" fill="#aea4d6"/>
<rect x="422.76" y="667.60" width="7.64" height="11.53" fill="#aea4d6"/>
<rect x="16.47" y="678.88" width="7.64" height="11.53" fill="#ebd3ea"/>
<rect x="38.63" y="678.88" width="7.64" height="11.53" fill="#aea4d6"/>
<rect x="97.73" y="678.88" width="7.64" height="11.53" fill="#ebd3ea"/>
<rect x="134.67" y="678.88" width="7.64" height="11.53" fill="#aea4d6"/>
<rect x="149.44" y="678.88" width="7.64" height="11.53" fill="#aea4d6"/>
<rect x="156.83" y="678.88" width="7.64" height="11.53" fill="#9b57d8"/>
<rect x="164.21" y="678.88" width="7.64" height="11.53" fill="#ebd3ea"/>
<rect x="260.24" y="678.88" width="7.64" height="11.53" fill="#aea4d6"/>
<rect x="267.63" y="678.88" width="7.64" height="11.53" fill="#9b57d8"/>
<rect x="275.02" y="678.88" width="7.64" height="11.53" fill="#ebd3ea"/>
<rect x="304.57" y="678.88" width="7.64" height="11.53" fill="#aea4d6"/>
<rect x="319.34" y="678.88" width="7.64" height="11.53" fill="#aea4d6"/>
<rect x="326.73" y="678.88" width="7.64" height="11.53" fill="#ebd3ea"/>
<rect x="334.11" y="678.88" width="7.64" height="11.53" fill="#aea4d6"/>
<rect x="356.28" y="678.88" width="7.64" height="11.53" fill="#aea4d6"/>
<rect x="363.66" y="678.88" width="7.64" height="11.53" fill="#aea4d6"/>
<rect x="371.05" y="678.88" width="7.64" height="11.53" fill="#ebd3ea"/>
<rect x="378.44" y="678.88" width="7.64" height="11.53" fill="#ebd3ea"/>
<rect x="407.98" y="678.88" width="7.64" height="11.53" fill="#aea4d6"/>
<rect x="422.76" y="678.88" width="7.64" height="11.53" fill="#aea4d6"/>
<rect x="437.53" y="678.88" width="7.64" height="11.53" fill="#ebd3ea"/>
<rect x="156.83" y="690.16" width="7.64" height="11.53" fill="#9b57d8"/>
<rect x="260.24" y="690.16" width="7.64" height="11.53" fill="#aea4d6"/>
<rect x="267.63" y="690.16" width="7.64" height="11.53" fill="#9b57d8"/>
<rect x="363.66" y="690.16" width="7.64" height="11.53" fill="#aea4d6"/>
<rect x="430.15" y="690.16" width="7.64" height="11.53" fill="#ebd3ea"/>
<rect x="156.83" y="701.44" width="7.64" height="11.53" fill="#9b57d8"/>
<rect x="201.15" y="701.44" width="7.64" height="11.53" fill="#ebd3ea"/>
<rect x="267.63" y="701.44" width="7.64" height="11.53" fill="#9b57d8"/>
<rect x="363.66" y="701.44" width="7.64" height="11.53" fill="#aea4d6"/>
<rect x="393.21" y="701.44" width="7.64" height="11.53" fill="#ebd3ea"/>
<text x="5.39 12.78 20.17 27.55 34.94 42.33 49.72 57.10 64.49 71.88 79.26 86.65 94.04 101.42 108.81 116.20 123.59 130.97 138.36 145.75 153.13 160.52 167.91 175.29 182.68 190.07 197.46 204.84 212.23 219.62 227.00 234.39 241.78 249.16 256.55 263.94 271.33 278.71 286.10 293.49 300.87 308.26 315.65 323.03 330.42 337.81 345.20 352.58 359.97 367.36 374.74 382.13 389.52 396.90 404.29 411.68 419.07 426.45 433.84 441.23 448.61 456.00 463.39" y="620.64" font-size="11.6" font-family='"Liberation Mono", monospace' fill="#1a1a1a" stroke="#1a1a1a" stroke-width="0.05" text-anchor="middle">SSCHRKPDAKPENFITQIETTPTETASRKTSDMVLKRKQTKDCPQRKWYPLRPKKINLDT---</text>
<text x="5.39 12.78 20.17 27.55 34.94 42.33 49.72 57.10 64.49 71.88 79.26 86.65 94.04 101.42 108.81 116.20 123.59 130.97 138.36 145.75 153.13 160.52 167.91 175.29 182.68 190.07 197.46 204.84 212.23 219.62 227.00 234.39 241.78 249.16 256.55 263.94 271.33 278.71 286.10 293.49 300.87 308.26 315.65 323.03 330.42 337.81 345.20 352.58 359.97 367.36 374.74 382.13 389.52 396.90 404.29 411.68 419.07 426.45 433.84 441.23 448.61 456.00 463.39" y="631.92" font-size="11.6" font-family='"Liberation Mono", monospace' fill="#1a1a1a" stroke="#1a1a1a" stroke-width="0.05" text-anchor="middle">SGCYRKADVKPESFITQIETTPTETSTRKSTDIVLKRKRSKDCPQRKWYPLRPKRINLDT---</text>
<text x="5.39 12.78 20.17 27.55 34.94 42.33 49.72 57.10 64.49 71.88 79.26 86.65 94.04 101.42 108.81 116.20 123.59 130.97 138.36 145.75 153.13 160.52 167.91 175.29 182.68 190.07 197.46 204.84 212.23 219.62 227.00 234.39 241.78 249.16 256.55 263.94 271.33 278.71 286.10 293.49 300.87 308.26 315.65 323.03 330.42 337.81 345.20 352.58 359.97 367.36 374.74 382.13 389.52 396.90 404.29 411.68 419.07 426.45 433.84 441.23 448.61 456.00 463.39" y="643.20" font-size="11.6" font-family='"Liberation Mono", monospace' fill="#1a1a1a" stroke="#1a1a1a" stroke-width="0.05" text-anchor="middle">SSCCRKPDVKPESFIAQIETTPAETSTRTATDLVLRRKRTKDCPQRKWYPLRRKRINLDT---</text>
<text x="5.39 12.78 20.17 27.55 34.94 42.33 49.72 57.10 64.49 71.88 79.26 86.65 94.04 101.42 108.81 116.20 123.59 130.97 138.36 145.75 153.13 160.52 167.91 175.29 182.68 190.07 197.46 204.84 212.23 219.62 227.00 234.39 241.78 249.16 256.55 263.94 271.33 278.71 286.10 293.49 300.87 308.26 315.65 323.03 330.42 337.81 345.20 352.58 359.97 367.36 374.74 382.13 389.52 396.90 404.29 411.68 419.07 426.45 433.84 441.23 448.61 456.00 463.39" y="654.48" font-size="11.6" font-family='"Liberation Mono", monospace' fill="#1a1a1a" stroke="#1a1a1a" stroke-width="0.05" text-anchor="middle">SSLYRKADFKPDTCVTHVETTPAETGARKASNIVLKRKKAPDCAQRKRYPLRLQRINLDM---</text>
<text x="5.39 12.78 20.17 27.55 34.94 42.33 49.72 57.10 64.49 71.88 79.26 86.65 94.04 101.42 108.81 116.20 123.59 130.97 138.36 145.75 153.13 160.52 167.91 175.29 182.68 190.07 197.46 204.84 212.23 219.62 227.00 234.39 241.78 249.16 256.55 263.94 271.33 278.71 286.10 293.49 300.87 308.26 315.65 323.03 330.42 337.81 345.20 352.58 359.97 367.36 374.74 382.13 389.52 396.90 404.29 411.68 419.07 426.45 433.84 441.23 448.61 456.00 463.39" y="665.76" font-size="11.6" font-family='"Liberation Mono", monospace' fill="#1a1a1a" stroke="#1a1a1a" stroke-width="0.05" text-anchor="middle">SGFNIKEPAKAD-FLTQIETTPTETASRETTDVGLKRRRLVTSPQRKRYAVQRKKINLNT---</text>
<text x="5.39 12.78 20.17 27.55 34.94 42.33 49.72 57.10 64.49 71.88 79.26 86.65 94.04 101.42 108.81 116.20 123.59 130.97 138.36 145.75 153.13 160.52 167.91 175.29 182.68 190.07 197.46 204.84 212.23 219.62 227.00 234.39 241.78 249.16 256.55 263.94 271.33 278.71 286.10 293.49 300.87 308.26 315.65 323.03 330.42 337.81 345.20 352.58 359.97 367.36 374.74 382.13 389.52 396.90 404.29 411.68 419.07 426.45 433.84 441.23 448.61 456.00 463.39" y="677.04" font-size="11.6" font-family='"Liberation Mono", monospace' fill="#1a1a1a" stroke="#1a1a1a" stroke-width="0.05" text-anchor="middle">SGCKAKEENNVQNSVPPGEVTPTGTVSSKNPYVLLKRRKAADSPERRRYPLRRRKISLSA---</text>
<text x="5.39 12.78 20.17 27.55 34.94 42.33 49.72 57.10 64.49 71.88 79.26 86.65 94.04 101.42 108.81 116.20 123.59 130.97 138.36 145.75 153.13 160.52 167.91 175.29 182.68 190.07 197.46 204.84 212.23 219.62 227.00 234.39 241.78 249.16 256.55 263.94 271.33 278.71 286.10 293.49 300.87 308.26 315.65 323.03 330.42 337.81 345.20 352.58 359.97 367.36 374.74 382.13 389.52 396.90 404.29 411.68 419.07 426.45 433.84 441.23 448.61 456.00 463.39" y="688.32" font-size="11.6" font-family='"Liberation Mono", monospace' fill="#1a1a1a" stroke="#1a1a1a" stroke-width="0.05" text-anchor="middle">AGCNAKEENSVQNFVSPAEVTPTDADSTNNPYTLFKRKKAADTPQRRYYPLRRRKITLST---</text>
<text x="5.39 12.78 20.17 27.55 34.94 42.33 49.72 57.10 64.49 71.88 79.26 86.65 94.04 101.42 108.81 116.20 123.59 130.97 138.36 145.75 153.13 160.52 167.91 175.29 182.68 190.07 197.46 204.84 212.23 219.62 227.00 234.39 241.78 249.16 256.55 263.94 271.33 278.71 286.10 293.49 300.87 308.26 315.65 323.03 330.42 337.81 345.20 352.58 359.97 367.36 374.74 382.13 389.52 396.90 404.29 411.68 419.07 426.45 433.84 441.23 448.61 456.00 463.39" y="699.60" font-size="11.6" font-family='"Liberation Mono", monospace' fill="#1a1a1a" stroke="#1a1a1a" stroke-width="0.05" text-anchor="middle">GSSV-------------GNVCPS----------IIKRDAADSEYSADYVPAAKITKKTDVNVI</text>
<text x="5.39 12.78 20.17 27.55 34.94 42.33 49.72 57.10 64.49 71.88 79.26 86.65 94.04 101.42 108.81 116.20 123.59 130.97 138.36 145.75 153.13 160.52 167.91 175.29 182.68 190.07 197.46 204.84 212.23 219.62 227.00 234.39 241.78 249.16 256.55 263.94 271.33 278.71 286.10 293.49 300.87 308.26 315.65 323.03 330.42 337.81 345.20 352.58 359.97 367.36 374.74 382.13 389.52 396.90 404.29 411.68 419.07 426.45 433.84 441.23 448.61 456.00 463.39" y="710.88" font-size="11.6" font-family='"Liberation Mono", monospace' fill="#1a1a1a" stroke="#1a1a1a" stroke-width="0.05" text-anchor="middle">GHTGQ----------SDAHLLPEGGTHRSRRPI--RRAVEEAAAAGGYVPPAKKPVG------</text>
<text x="1.20" y="495.14" font-size="8.8" fill="#222" text-anchor="start" stroke="#222" stroke-width="0.05" font-style="italic" textLength="45.7" lengthAdjust="spacingAndGlyphs" >Homo sapiens</text>
<text x="1.20" y="506.44" font-size="8.8" fill="#222" text-anchor="start" stroke="#222" stroke-width="0.05" font-style="italic" textLength="49.3" lengthAdjust="spacingAndGlyphs" >Equus caballus</text>
<text x="1.20" y="517.73" font-size="8.8" fill="#222" text-anchor="start" stroke="#222" stroke-width="0.05" font-style="italic" textLength="34.6" lengthAdjust="spacingAndGlyphs" >Bos taurus</text>
<text x="1.20" y="529.01" font-size="8.8" fill="#222" text-anchor="start" stroke="#222" stroke-width="0.05" font-style="italic" textLength="45.7" lengthAdjust="spacingAndGlyphs" >Mus musculus</text>
<text x="1.20" y="540.30" font-size="8.8" fill="#222" text-anchor="start" stroke="#222" stroke-width="0.05" font-style="italic" textLength="81.7" lengthAdjust="spacingAndGlyphs" >Ornithorhynchus anatinus</text>
<text x="1.20" y="551.60" font-size="8.8" fill="#222" text-anchor="start" stroke="#222" stroke-width="0.05" font-style="italic" textLength="63.3" lengthAdjust="spacingAndGlyphs" >Taeniopygia guttata</text>
<text x="1.20" y="562.88" font-size="8.8" fill="#222" text-anchor="start" stroke="#222" stroke-width="0.05" font-style="italic" textLength="40.4" lengthAdjust="spacingAndGlyphs" >Gallus gallus</text>
<text x="1.20" y="574.17" font-size="8.8" fill="#222" text-anchor="start" stroke="#222" stroke-width="0.05" font-style="italic" textLength="35.4" lengthAdjust="spacingAndGlyphs" >Danio rerio</text>
<text x="1.20" y="585.47" font-size="8.8" fill="#222" text-anchor="start" stroke="#222" stroke-width="0.05" font-style="italic" textLength="68.8" lengthAdjust="spacingAndGlyphs" >Tetraodon nigroviridis</text>
<text x="117.77" y="481.10" font-size="11" font-family='"Liberation Mono", monospace' fill="#222" text-anchor="end">200</text>
<line x1="114.07" y1="482.20" x2="114.07" y2="483.40" stroke="#666" stroke-width="0.8" />
<text x="191.67" y="481.10" font-size="11" font-family='"Liberation Mono", monospace' fill="#222" text-anchor="end">210</text>
<line x1="187.97" y1="482.20" x2="187.97" y2="483.40" stroke="#666" stroke-width="0.8" />
<text x="265.57" y="481.10" font-size="11" font-family='"Liberation Mono", monospace' fill="#222" text-anchor="end">220</text>
<line x1="261.87" y1="482.20" x2="261.87" y2="483.40" stroke="#666" stroke-width="0.8" />
<text x="68.18" y="606.90" font-size="11" font-family='"Liberation Mono", monospace' fill="#222" text-anchor="end">230</text>
<line x1="64.49" y1="608.20" x2="64.49" y2="609.40" stroke="#666" stroke-width="0.8" />
<text x="142.05" y="606.90" font-size="11" font-family='"Liberation Mono", monospace' fill="#222" text-anchor="end">240</text>
<line x1="138.36" y1="608.20" x2="138.36" y2="609.40" stroke="#666" stroke-width="0.8" />
<text x="215.92" y="606.90" font-size="11" font-family='"Liberation Mono", monospace' fill="#222" text-anchor="end">250</text>
<line x1="212.23" y1="608.20" x2="212.23" y2="609.40" stroke="#666" stroke-width="0.8" />
<text x="289.79" y="606.90" font-size="11" font-family='"Liberation Mono", monospace' fill="#222" text-anchor="end">260</text>
<line x1="286.10" y1="608.20" x2="286.10" y2="609.40" stroke="#666" stroke-width="0.8" />
<text x="363.66" y="606.90" font-size="11" font-family='"Liberation Mono", monospace' fill="#222" text-anchor="end">270</text>
<line x1="359.97" y1="608.20" x2="359.97" y2="609.40" stroke="#666" stroke-width="0.8" />
<text x="437.53" y="606.90" font-size="11" font-family='"Liberation Mono", monospace' fill="#222" text-anchor="end">280</text>
<line x1="433.84" y1="608.20" x2="433.84" y2="609.40" stroke="#666" stroke-width="0.8" />
<ellipse cx="195.4" cy="467.8" rx="3.6" ry="3.1" fill="#d22a2a"/>
<ellipse cx="210.2" cy="467.8" rx="3.6" ry="3.1" fill="#d22a2a"/>
</svg></body></html>
